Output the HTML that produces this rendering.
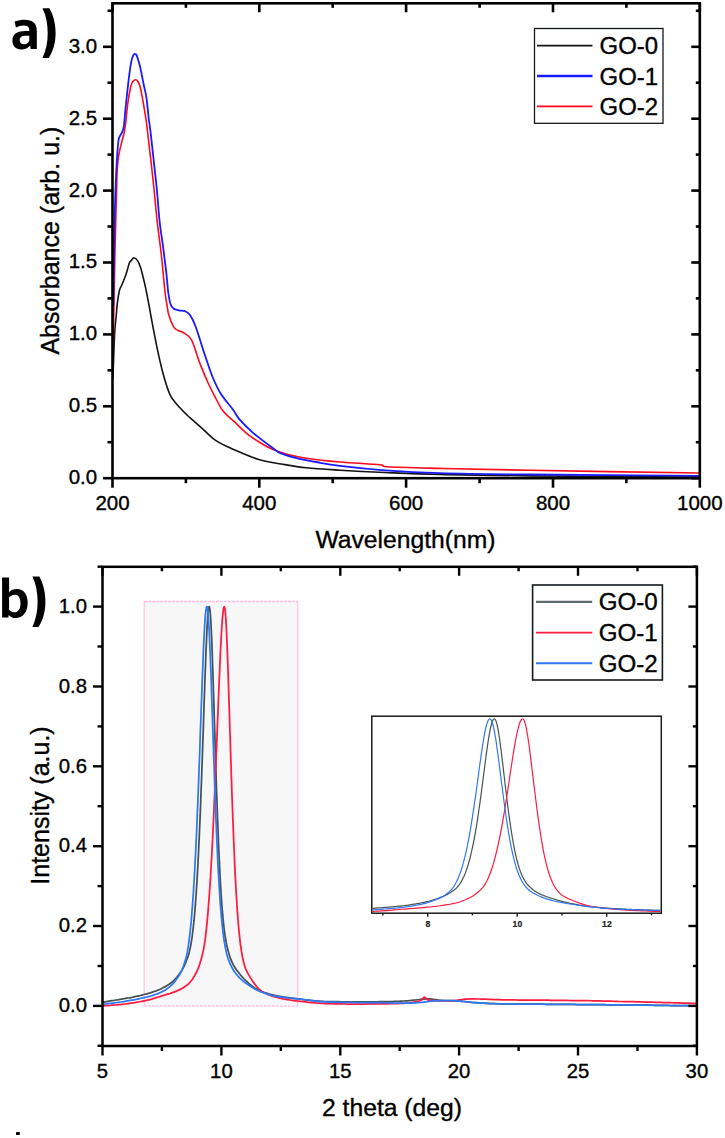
<!DOCTYPE html>
<html><head><meta charset="utf-8"><style>
html,body{margin:0;padding:0;background:#fff;width:725px;height:1138px;overflow:hidden;position:relative}
text{font-family:"Liberation Sans",sans-serif;stroke:#000;stroke-width:0.35px}
</style></head><body>
<svg width="725" height="1138" viewBox="0 0 725 1138" style="position:absolute;left:0;top:0"><rect width="725" height="1138" fill="#fff"/><path d="M112.9,378.4C113.2,370.8 114.1,343.3 114.7,332.7C115.3,322.1 115.9,319.9 116.3,315C116.7,310.1 116.8,307.7 117.3,303.6C117.8,299.5 118.7,293.6 119.4,290.5C120.2,287.4 120.7,287.6 121.8,285C122.9,282.4 124.6,278.4 125.9,274.7C127.2,271 128.5,265.2 129.4,262.9C130.3,260.5 130.4,261.5 131.2,260.6C131.9,259.8 132.8,257.8 133.9,257.8C135,257.9 136.6,259.3 137.7,260.9C138.8,262.4 139.6,264.8 140.4,267.1C141.2,269.4 141.6,271.2 142.5,274.7C143.4,278.1 144.6,283 145.6,287.8C146.6,292.6 147.7,298.5 148.7,303.6C149.7,308.7 150,311.1 151.4,318.5C152.8,325.9 155.2,338.8 157.1,347.9C159,357 160.8,365.2 162.9,373C165.1,380.8 167.2,388.8 170,394.6C172.8,400.4 176.6,404 179.9,407.8C183.2,411.6 186,414.1 189.9,417.7C193.8,421.3 198.7,425.4 203.1,429.3C207.5,433.2 211.4,437.6 216.4,440.9C221.4,444.2 226,446.1 232.9,449.2C239.8,452.2 249.9,456.7 257.9,459.2C265.9,461.7 273.1,462.6 281.1,464C289.2,465.4 296.4,466.8 306.2,467.8C316,468.8 326.9,469.4 340,470.2C353.1,471 368.3,471.8 385,472.5C401.7,473.2 415.8,473.9 440,474.5C464.2,475.1 486.8,475.5 530,475.9C573.2,476.3 670.8,476.8 699,477" fill="none" stroke="#141414" stroke-width="1.6"/><path d="M113.3,341C113.4,334.2 113.7,315.2 114,300C114.3,284.8 114.7,265 115,250C115.3,235 115.7,220 116,210C116.3,200 116.4,196.4 116.6,190C116.8,183.6 116.8,177 117.1,171.8C117.4,166.6 117.7,162.3 118.2,158.6C118.7,154.9 119.3,152.6 119.9,149.7C120.5,146.8 121.3,143.9 122,141C122.7,138.1 123.6,135.5 124.3,132C125,128.5 125.5,124.5 126,120C126.5,115.5 126.9,110.3 127.6,105C128.3,99.7 129.6,91.8 130.4,88C131.2,84.2 131.7,83.4 132.5,82C133.3,80.6 134.5,79.8 135.4,79.7C136.3,79.6 137.2,80.2 138,81.5C138.8,82.8 139.5,84.1 140.3,87.5C141.2,90.9 142.3,97.7 143.1,101.8C143.8,105.9 144.2,108.6 144.8,112C145.4,115.4 145.9,118.3 146.4,122C146.9,125.7 147.1,127.7 147.8,134C148.5,140.3 149.8,151.2 150.8,159.7C151.8,168.2 152.5,174.7 153.6,185C154.7,195.3 155.9,209.8 157.2,221.4C158.5,233 160,243.1 161.3,254.5C162.6,265.9 163.9,281.8 164.8,290C165.7,298.2 166.1,299.8 166.8,304C167.5,308.2 167.7,311.2 168.8,315C169.9,318.8 172,324.1 173.5,326.7C175,329.3 176.4,329.5 178,330.5C179.6,331.5 180.9,330.9 183.2,332.5C185.4,334.1 188.7,334.8 191.5,339.9C194.3,345 197,355.9 199.8,363.1C202.6,370.3 205.6,377.5 208.1,383C210.6,388.5 212.2,391.5 214.7,396.2C217.2,400.9 219.7,406.8 223,411.1C226.3,415.4 230.5,418 234.6,421.9C238.7,425.8 243.1,430.6 247.8,434.3C252.5,438 258.6,441.7 262.7,444.2C266.8,446.7 268.6,447.5 272.6,449.2C276.6,450.9 281.3,452.8 286.9,454.3C292.5,455.8 297.3,456.9 306.2,458.2C315.1,459.5 327.8,460.9 340,462C352.2,463.1 371.7,464 379.7,464.8C387.7,465.6 377.8,466.2 387.9,466.8C398,467.4 416.6,467.8 440.3,468.4C464,469 486.9,469.5 530,470.3C573.1,471.1 670.8,472.6 699,473" fill="none" stroke="#ff0a1e" stroke-width="1.6"/><path d="M113.3,306C113.4,300 113.6,284.3 113.8,270C114,255.7 114.3,233.3 114.6,220C114.9,206.7 115.2,199.1 115.5,190C115.8,180.9 116.2,172.1 116.6,165.2C117,158.3 117.3,153 117.7,148.6C118.1,144.2 118.2,141.3 118.8,138.7C119.4,136.1 120.8,135.2 121.6,133.2C122.4,131.2 123.2,130.5 123.8,126.6C124.4,122.7 124.8,116.1 125.4,110C126,103.9 126.8,96.2 127.5,90C128.2,83.8 128.8,78.1 129.5,73.1C130.2,68.1 131,62.9 131.7,59.9C132.4,56.9 133,56 133.5,55C134,54 134.3,53.8 134.8,53.8C135.3,53.8 135.9,53.9 136.5,55C137.1,56.1 137.7,58.4 138.3,60.5C138.9,62.6 139.4,63.6 140.3,67.6C141.2,71.5 142.6,79.2 143.6,84.2C144.6,89.2 145.5,91.4 146.4,97.4C147.3,103.4 148.2,114.6 148.9,120C149.6,125.4 149.5,123.3 150.3,129.9C151.1,136.5 152.5,149.7 153.6,159.7C154.7,169.7 155.9,179.7 156.9,190C157.9,200.3 158.6,212 159.6,221.4C160.6,230.8 161.9,237.6 163,246.2C164.1,254.8 165.4,265.1 166.3,272.7C167.2,280.3 167.5,286.8 168.2,292C168.9,297.2 169.6,301.2 170.5,304C171.4,306.8 172.2,307.4 173.5,308.5C174.8,309.6 176.5,309.9 178.4,310.3C180.3,310.8 183.2,310.4 185.1,311.2C187,312 188.2,312.5 190,315.1C191.8,317.7 193.2,320.1 195.7,326.7C198.2,333.3 201.9,346.2 204.8,354.8C207.7,363.4 210.2,371.4 213,378C215.8,384.6 218,389.4 221.3,394.6C224.6,399.9 229.9,405.4 232.9,409.5C235.9,413.6 236.2,415.5 239.5,419.4C242.8,423.2 247,427.6 252.8,432.6C258.6,437.6 269.6,445.7 274.3,449.2C279,452.7 277.4,451.9 281.1,453.4C284.8,454.9 290.7,456.8 296.5,458.2C302.3,459.6 308.6,460.7 315.8,462C323.1,463.3 328.5,464.5 340,465.9C351.5,467.3 368.3,469.1 385,470.3C401.7,471.5 415.8,472.4 440,473.1C464.2,473.8 486.8,474.1 530,474.5C573.2,474.9 670.8,475.6 699,475.8" fill="none" stroke="#1a1aff" stroke-width="1.8"/><g stroke="#000" stroke-width="2.6"><rect x="112.5" y="3.3" width="587.3" height="474.9" fill="none" stroke="#000" stroke-width="2.6"/><line x1="103.0" y1="478.2" x2="112.5" y2="478.2"/><line x1="699.8" y1="478.2" x2="691.3" y2="478.2"/><line x1="107.5" y1="442.2" x2="112.5" y2="442.2"/><line x1="699.8" y1="442.2" x2="695.8" y2="442.2"/><line x1="103.0" y1="406.3" x2="112.5" y2="406.3"/><line x1="699.8" y1="406.3" x2="691.3" y2="406.3"/><line x1="107.5" y1="370.3" x2="112.5" y2="370.3"/><line x1="699.8" y1="370.3" x2="695.8" y2="370.3"/><line x1="103.0" y1="334.4" x2="112.5" y2="334.4"/><line x1="699.8" y1="334.4" x2="691.3" y2="334.4"/><line x1="107.5" y1="298.4" x2="112.5" y2="298.4"/><line x1="699.8" y1="298.4" x2="695.8" y2="298.4"/><line x1="103.0" y1="262.5" x2="112.5" y2="262.5"/><line x1="699.8" y1="262.5" x2="691.3" y2="262.5"/><line x1="107.5" y1="226.5" x2="112.5" y2="226.5"/><line x1="699.8" y1="226.5" x2="695.8" y2="226.5"/><line x1="103.0" y1="190.6" x2="112.5" y2="190.6"/><line x1="699.8" y1="190.6" x2="691.3" y2="190.6"/><line x1="107.5" y1="154.6" x2="112.5" y2="154.6"/><line x1="699.8" y1="154.6" x2="695.8" y2="154.6"/><line x1="103.0" y1="118.7" x2="112.5" y2="118.7"/><line x1="699.8" y1="118.7" x2="691.3" y2="118.7"/><line x1="107.5" y1="82.7" x2="112.5" y2="82.7"/><line x1="699.8" y1="82.7" x2="695.8" y2="82.7"/><line x1="103.0" y1="46.8" x2="112.5" y2="46.8"/><line x1="699.8" y1="46.8" x2="691.3" y2="46.8"/><line x1="107.5" y1="10.8" x2="112.5" y2="10.8"/><line x1="699.8" y1="10.8" x2="695.8" y2="10.8"/><line x1="112.5" y1="478.2" x2="112.5" y2="487.7"/><line x1="112.5" y1="3.3" x2="112.5" y2="12.3"/><line x1="185.9" y1="478.2" x2="185.9" y2="483.2"/><line x1="185.9" y1="3.3" x2="185.9" y2="7.800000000000001"/><line x1="259.3" y1="478.2" x2="259.3" y2="487.7"/><line x1="259.3" y1="3.3" x2="259.3" y2="12.3"/><line x1="332.7" y1="478.2" x2="332.7" y2="483.2"/><line x1="332.7" y1="3.3" x2="332.7" y2="7.800000000000001"/><line x1="406.1" y1="478.2" x2="406.1" y2="487.7"/><line x1="406.1" y1="3.3" x2="406.1" y2="12.3"/><line x1="479.6" y1="478.2" x2="479.6" y2="483.2"/><line x1="479.6" y1="3.3" x2="479.6" y2="7.800000000000001"/><line x1="553.0" y1="478.2" x2="553.0" y2="487.7"/><line x1="553.0" y1="3.3" x2="553.0" y2="12.3"/><line x1="626.4" y1="478.2" x2="626.4" y2="483.2"/><line x1="626.4" y1="3.3" x2="626.4" y2="7.800000000000001"/><line x1="699.8" y1="478.2" x2="699.8" y2="487.7"/><line x1="699.8" y1="3.3" x2="699.8" y2="12.3"/></g><g font-family="Liberation Sans" font-size="20.5" fill="#000"><text x="112.5" y="509.8" text-anchor="middle">200</text><text x="259.3" y="509.8" text-anchor="middle">400</text><text x="406.1" y="509.8" text-anchor="middle">600</text><text x="553.0" y="509.8" text-anchor="middle">800</text><text x="699.8" y="509.8" text-anchor="middle">1000</text><text x="97.2" y="484.1" text-anchor="end">0.0</text><text x="97.2" y="412.2" text-anchor="end">0.5</text><text x="97.2" y="340.3" text-anchor="end">1.0</text><text x="97.2" y="268.4" text-anchor="end">1.5</text><text x="97.2" y="196.5" text-anchor="end">2.0</text><text x="97.2" y="124.6" text-anchor="end">2.5</text><text x="97.2" y="52.7" text-anchor="end">3.0</text></g><text x="405.5" y="547.6" text-anchor="middle" font-family="Liberation Sans" font-size="24.7">Wavelength(nm)</text><text transform="translate(58.9,240.6) rotate(-90)" text-anchor="middle" font-family="Liberation Sans" font-size="25">Absorbance (arb. u.)</text><rect x="534.5" y="28.5" width="128.5" height="94.8" fill="none" stroke="#151a1e" stroke-width="1.3"/><line x1="537" y1="45.6" x2="592.5" y2="45.6" stroke="#141414" stroke-width="1.8"/><text x="599.6" y="54.1" font-family="Liberation Sans" font-size="23" textLength="58.5" lengthAdjust="spacingAndGlyphs">GO-0</text><line x1="537" y1="76.0" x2="592.5" y2="76.0" stroke="#1a1aff" stroke-width="2.3"/><text x="599.6" y="84.5" font-family="Liberation Sans" font-size="23" textLength="58.5" lengthAdjust="spacingAndGlyphs">GO-1</text><line x1="537" y1="106.4" x2="592.5" y2="106.4" stroke="#ff0a1e" stroke-width="1.8"/><text x="599.6" y="114.9" font-family="Liberation Sans" font-size="23" textLength="58.5" lengthAdjust="spacingAndGlyphs">GO-2</text><path fill="#000" fill-rule="evenodd" d="M14.6,21.4 C18,20.2 21.4,19.7 24.6,19.7 C32.6,19.7 36.8,23.3 36.8,30.6 L36.8,48.9 L30.7,48.9 L30.1,45.6 C28.1,48.2 25,49.5 21.1,49.5 C15.7,49.5 12.4,46 12.4,40.6 C12.4,33.7 17.6,31 25.6,31 L29.3,31 L29.3,30 C29.3,26.8 27.4,25.4 23.7,25.4 C20.9,25.4 18.2,26.1 15.9,27.6 Z M29.3,35.7 L26,35.7 C21.7,35.7 19.7,37.2 19.7,40 C19.7,42.7 21.3,44.3 24,44.3 C26.9,44.3 29.3,42.4 29.3,39.5 Z"/><path d="M42.5,8.2 L49.4,8.2 C53.5,15.2 55.6,24.1 55.6,33.0 C55.6,42.0 53.5,50.9 48.7,57.9 L42.5,57.9 C46.2,50.4 47.7,42.0 47.7,33.0 C47.7,24.1 46.2,15.7 42.5,8.2 Z" fill="#000"/><rect x="144.2" y="601.5" width="153.5" height="404.6" fill="#f7f7f7"/><g fill="none" stroke="#ffb4de" stroke-width="1.3"><path d="M144.2,601.5 H297.7 M144.2,1006.1 H297.7" stroke-dasharray="2.6 1.4"/><path d="M144.2,601.5 V1006.1 M297.7,601.5 V1006.1" stroke-dasharray="1.5 0.5"/></g><path d="M102.5,1002.4C102.9,1002.3 104.3,1002.1 105.2,1001.9C106.1,1001.8 107,1001.6 107.9,1001.4C108.8,1001.3 109.7,1001.1 110.6,1000.9C111.5,1000.8 112.4,1000.6 113.3,1000.5C114.2,1000.3 115.1,1000.2 116,1000C116.9,999.9 117.8,999.7 118.7,999.6C119.6,999.4 120.5,999.3 121.4,999.1C122.3,999 123.2,998.8 124.1,998.7C125,998.5 125.9,998.4 126.8,998.2C127.7,998.1 128.6,997.9 129.5,997.8C130.4,997.6 131.3,997.5 132.2,997.3C133.1,997.1 134,996.9 134.9,996.7C135.8,996.6 136.7,996.4 137.6,996.2C138.5,996 139.4,995.7 140.3,995.5C141.2,995.3 142,995.1 142.9,994.9C143.8,994.6 144.7,994.4 145.6,994.2C146.5,993.9 147.4,993.7 148.3,993.4C149.2,993.1 150.1,992.9 151,992.6C151.9,992.3 152.8,992 153.7,991.7C154.6,991.4 155.5,991.1 156.4,990.8C157.3,990.4 158.2,990.1 159.1,989.7C160,989.3 160.9,988.9 161.8,988.5C162.7,988.1 163.6,987.6 164.5,987.1C165.4,986.7 166.3,986.1 167.2,985.6C168.1,985 169,984.4 169.9,983.7C170.8,983 171.7,982.4 172.6,981.6C173.5,980.8 174.4,979.9 175.3,978.9C176.2,978 177.1,976.9 178,975.7C178.9,974.6 180.2,972.8 180.7,972.1C181.2,971.4 181,971.6 181.1,971.4C181.3,971.2 181.4,971 181.6,970.7C181.7,970.5 181.9,970.3 182,970C182.2,969.8 182.3,969.5 182.5,969.3C182.6,969 182.8,968.8 182.9,968.5C183.1,968.2 183.2,968 183.4,967.7C183.5,967.4 183.6,967.1 183.8,966.8C183.9,966.5 184.1,966.2 184.2,965.9C184.4,965.6 184.5,965.3 184.7,965C184.8,964.6 185,964.3 185.1,963.9C185.3,963.6 185.4,963.2 185.6,962.9C185.7,962.5 185.9,962.1 186,961.7C186.2,961.3 186.3,960.9 186.4,960.5C186.6,960.1 186.7,959.8 186.9,959.4C187,959 187.2,958.6 187.3,958.2C187.5,957.9 187.6,957.5 187.8,957.1C187.9,956.7 188.1,956.3 188.2,955.8C188.4,955.4 188.5,954.9 188.7,954.4C188.8,954 189,953.5 189.1,952.9C189.3,952.4 189.4,951.8 189.5,951.2C189.7,950.6 189.8,949.9 190,949.3C190.1,948.6 190.3,947.8 190.4,947C190.6,946.3 190.7,945.5 190.9,944.6C191,943.8 191.2,942.9 191.3,942C191.5,941.1 191.6,940.1 191.8,939.1C191.9,938.2 192.1,937.1 192.2,936C192.3,935 192.5,933.8 192.6,932.7C192.8,931.5 192.9,930.3 193.1,929C193.2,927.7 193.4,926.4 193.5,925C193.7,923.6 193.8,922.2 194,920.7C194.1,919.2 194.3,917.7 194.4,916.1C194.6,914.4 194.7,912.8 194.9,911C195,909.3 195.1,907.5 195.3,905.6C195.4,903.7 195.6,901.8 195.7,899.8C195.9,897.8 196,895.7 196.2,893.5C196.3,891.3 196.5,889.1 196.6,886.8C196.8,884.5 196.9,882.1 197.1,879.6C197.2,877.1 197.4,874.6 197.5,871.9C197.7,869.3 197.8,866.6 198,863.8C198.1,860.9 198.2,858.1 198.4,855.1C198.5,852.1 198.7,849.1 198.8,845.9C199,842.8 199.1,839.5 199.3,836.2C199.4,832.9 199.6,829.5 199.7,826.1C199.9,822.6 200,819 200.2,815.4C200.3,811.7 200.5,808 200.6,804.2C200.8,800.4 200.9,796.6 201,792.6C201.2,788.7 201.3,784.7 201.5,780.6C201.6,776.6 201.8,772.4 201.9,768.3C202.1,764.1 202.2,759.8 202.4,755.6C202.5,751.3 202.7,747 202.8,742.6C203,738.3 203.1,733.9 203.3,729.5C203.4,725.1 203.6,720.7 203.7,716.3C203.8,711.9 204,707.5 204.1,703.1C204.3,698.7 204.4,694.4 204.6,690.1C204.7,685.8 204.9,681.5 205,677.4C205.2,673.2 205.3,669.1 205.5,665.2C205.6,661.2 205.8,657.3 205.9,653.6C206.1,649.9 206.2,646.3 206.4,642.9C206.5,639.5 206.6,636.2 206.8,633.2C206.9,630.2 207.1,627.4 207.2,624.8C207.4,622.2 207.5,619.9 207.7,617.8C207.8,615.7 208,613.9 208.1,612.4C208.3,610.9 208.4,609.6 208.6,608.7C208.7,607.8 208.9,607.1 209,606.8C209.2,606.5 209.3,606.5 209.5,606.9C209.6,607.3 209.7,608 209.9,609.2C210,610.3 210.2,611.8 210.3,613.6C210.5,615.5 210.6,617.7 210.8,620.2C210.9,622.7 211.1,625.5 211.2,628.6C211.4,631.6 211.5,635 211.7,638.6C211.8,642.2 212,646 212.1,650C212.3,654 212.4,658.2 212.5,662.6C212.7,666.9 212.8,671.4 213,675.9C213.1,680.5 213.3,685.2 213.4,689.9C213.6,694.7 213.7,699.5 213.9,704.3C214,709.1 214.2,714 214.3,718.9C214.5,723.7 214.6,728.6 214.8,733.4C214.9,738.3 215.1,743.1 215.2,747.9C215.3,752.6 215.5,757.4 215.6,762C215.8,766.7 215.9,771.3 216.1,775.9C216.2,780.4 216.4,784.9 216.5,789.3C216.7,793.7 216.8,798 217,802.2C217.1,806.4 217.3,810.5 217.4,814.5C217.6,818.6 217.7,822.5 217.9,826.3C218,830.2 218.2,833.9 218.3,837.5C218.4,841.2 218.6,844.7 218.7,848.1C218.9,851.6 219,854.9 219.2,858.1C219.3,861.3 219.5,864.4 219.6,867.4C219.8,870.4 219.9,873.2 220.1,876C220.2,878.8 220.4,881.4 220.5,884C220.7,886.6 220.8,889 221,891.4C221.1,893.7 221.2,896 221.4,898.1C221.5,900.3 221.7,902.4 221.8,904.3C222,906.3 222.1,908.2 222.3,910C222.4,911.8 222.6,913.6 222.7,915.2C222.9,916.9 223,918.4 223.2,919.9C223.3,921.4 223.5,922.8 223.6,924.2C223.8,925.6 223.9,926.9 224,928.1C224.2,929.3 224.3,930.5 224.5,931.6C224.6,932.7 224.8,933.8 224.9,934.8C225.1,935.8 225.2,936.8 225.4,937.7C225.5,938.6 225.7,939.5 225.8,940.3C226,941.1 226.1,941.9 226.3,942.7C226.4,943.5 226.6,944.2 226.7,944.9C226.9,945.6 227,946.2 227.1,946.9C227.3,947.5 227.4,948.1 227.6,948.7C227.7,949.3 227.9,949.9 228,950.4C228.2,951 228.3,951.5 228.5,952C228.6,952.5 228.8,953 228.9,953.5C229.1,954 229.2,954.5 229.4,955C229.5,955.4 229.7,955.9 229.8,956.4C229.9,956.8 230.1,957.3 230.2,957.7C230.4,958.1 230.5,958.5 230.7,958.9C230.8,959.3 231,959.7 231.1,960.1C231.3,960.5 231.4,960.8 231.6,961.2C231.7,961.5 231.9,961.9 232,962.2C232.2,962.5 232.3,962.8 232.5,963.1C232.6,963.5 232.7,963.8 232.9,964C233,964.3 233.2,964.6 233.3,964.9C233.5,965.2 233.6,965.4 233.8,965.7C233.9,966 234.1,966.2 234.2,966.5C234.4,966.7 234.5,966.9 234.7,967.2C234.8,967.4 235,967.6 235.1,967.9C235.3,968.1 235.4,968.3 235.5,968.5C235.7,968.7 235.8,968.9 236,969.1C236.1,969.3 236.3,969.5 236.4,969.7C236.6,969.9 236.7,970.1 236.9,970.3C237,970.5 237.2,970.7 237.3,970.9C237.5,971.1 237,970.6 237.8,971.5C238.5,972.4 240.3,974.8 241.6,976.3C242.9,977.8 244.2,979.1 245.5,980.4C246.8,981.6 248.1,982.8 249.3,983.9C250.6,985 251.9,986.1 253.2,987C254.5,987.9 255.8,988.7 257.1,989.3C258.3,990 259.6,990.7 260.9,991.2C262.2,991.8 263.5,992.2 264.8,992.7C266.1,993.1 267.3,993.5 268.6,993.8C269.9,994.2 271.2,994.5 272.5,994.8C273.8,995.1 275.1,995.4 276.3,995.7C277.6,995.9 278.9,996.2 280.2,996.4C281.5,996.6 282.8,996.8 284.1,997C285.3,997.2 286.6,997.4 287.9,997.6C289.2,997.8 290.5,998 291.8,998.2C293.1,998.4 294.3,998.5 295.6,998.7C296.9,998.9 298.2,999.1 299.5,999.2C300.8,999.4 302.1,999.5 303.4,999.7C304.6,999.8 305.9,1000 307.2,1000.1C308.5,1000.2 309.8,1000.4 311.1,1000.5C312.4,1000.6 313.6,1000.7 314.9,1000.8C316.2,1000.9 317.5,1001 318.8,1001.1C320.1,1001.2 321.4,1001.3 322.6,1001.3C323.9,1001.4 325.2,1001.5 326.5,1001.5C327.8,1001.6 329.1,1001.6 330.4,1001.6C331.6,1001.6 332.9,1001.6 334.2,1001.7C335.5,1001.7 336.8,1001.7 338.1,1001.7C339.4,1001.7 340.6,1001.7 341.9,1001.8C343.2,1001.8 344.5,1001.8 345.8,1001.8C347.1,1001.8 348.4,1001.8 349.7,1001.8C350.9,1001.8 352.2,1001.8 353.5,1001.8C354.8,1001.8 356.1,1001.8 357.4,1001.8C358.7,1001.8 359.9,1001.8 361.2,1001.8C362.5,1001.8 363.8,1001.8 365.1,1001.8C366.4,1001.8 367.7,1001.8 368.9,1001.8C370.2,1001.8 371.5,1001.8 372.8,1001.8C374.1,1001.8 375.4,1001.8 376.7,1001.8C377.9,1001.8 379.2,1001.8 380.5,1001.7C381.8,1001.7 383.1,1001.7 384.4,1001.7C385.7,1001.6 386.9,1001.6 388.2,1001.6C389.5,1001.5 390.8,1001.5 392.1,1001.5C393.4,1001.4 394.7,1001.4 396,1001.3C397.2,1001.3 398.5,1001.2 399.8,1001.2C401.1,1001.1 402.4,1001.1 403.7,1001C405,1000.9 406.2,1000.9 407.5,1000.8C408.8,1000.7 410.1,1000.6 411.4,1000.4C412.7,1000.3 414,1000.1 415.2,1000C416.5,999.8 417.8,999.6 419.1,999.5C420.4,999.3 421.7,999.2 423,999.1C424.2,999 425.5,998.9 426.8,998.8C428.1,998.8 429.4,998.8 430.7,998.9C432,999 433.2,999.3 434.5,999.5C435.8,999.7 437.1,1000 438.4,1000.1C439.7,1000.3 441,1000.3 442.3,1000.4C443.5,1000.4 444.8,1000.4 446.1,1000.5C447.4,1000.5 448.7,1000.5 450,1000.5C451.3,1000.6 452.5,1000.6 453.8,1000.7C455.1,1000.7 456.4,1000.8 457.7,1001C459,1001.1 460.3,1001.2 461.5,1001.3C462.8,1001.4 464.1,1001.6 465.4,1001.7C466.7,1001.9 468,1002 469.3,1002.1C470.5,1002.3 471.8,1002.4 473.1,1002.5C474.4,1002.6 475.7,1002.6 477,1002.7C478.3,1002.8 479.5,1002.9 480.8,1003C482.1,1003 483.4,1003.1 484.7,1003.2C486,1003.3 487.3,1003.3 488.6,1003.4C489.8,1003.5 491.1,1003.5 492.4,1003.6C493.7,1003.6 495,1003.7 496.3,1003.7C497.6,1003.8 498.8,1003.8 500.1,1003.8C501.4,1003.8 502.7,1003.8 504,1003.9C505.3,1003.9 506.6,1003.9 507.8,1003.9C509.1,1003.9 510.4,1004 511.7,1004C513,1004 514.3,1004 515.6,1004C516.8,1004 518.1,1004 519.4,1004.1C520.7,1004.1 522,1004.1 523.3,1004.1C524.6,1004.1 525.8,1004.1 527.1,1004.1C528.4,1004.1 529.7,1004.1 531,1004.2C532.3,1004.2 533.6,1004.2 534.9,1004.2C536.1,1004.2 537.4,1004.2 538.7,1004.2C540,1004.2 541.3,1004.2 542.6,1004.2C543.9,1004.2 545.1,1004.3 546.4,1004.3C547.7,1004.3 549,1004.3 550.3,1004.3C551.6,1004.3 552.9,1004.3 554.1,1004.3C555.4,1004.3 556.7,1004.3 558,1004.3C559.3,1004.3 560.6,1004.3 561.9,1004.4C563.1,1004.4 564.4,1004.4 565.7,1004.4C567,1004.4 568.3,1004.4 569.6,1004.4C570.9,1004.4 572.1,1004.4 573.4,1004.4C574.7,1004.4 576,1004.5 577.3,1004.5C578.6,1004.5 579.9,1004.5 581.2,1004.5C582.4,1004.5 583.7,1004.5 585,1004.5C586.3,1004.6 587.6,1004.6 588.9,1004.6C590.2,1004.6 591.4,1004.6 592.7,1004.6C594,1004.6 595.3,1004.6 596.6,1004.6C597.9,1004.7 599.2,1004.7 600.4,1004.7C601.7,1004.7 603,1004.7 604.3,1004.7C605.6,1004.7 606.9,1004.8 608.2,1004.8C609.4,1004.8 610.7,1004.8 612,1004.8C613.3,1004.8 614.6,1004.8 615.9,1004.8C617.2,1004.9 618.4,1004.9 619.7,1004.9C621,1004.9 622.3,1004.9 623.6,1004.9C624.9,1004.9 626.2,1004.9 627.5,1005C628.7,1005 630,1005 631.3,1005C632.6,1005 633.9,1005 635.2,1005C636.5,1005.1 637.7,1005.1 639,1005.1C640.3,1005.1 641.6,1005.1 642.9,1005.1C644.2,1005.1 645.5,1005.2 646.7,1005.2C648,1005.2 649.3,1005.2 650.6,1005.2C651.9,1005.2 653.2,1005.3 654.5,1005.3C655.7,1005.3 657,1005.3 658.3,1005.3C659.6,1005.3 660.9,1005.3 662.2,1005.4C663.5,1005.4 664.7,1005.4 666,1005.4C667.3,1005.4 668.6,1005.4 669.9,1005.5C671.2,1005.5 672.5,1005.5 673.8,1005.5C675,1005.5 676.3,1005.5 677.6,1005.6C678.9,1005.6 680.2,1005.6 681.5,1005.6C682.8,1005.6 684,1005.6 685.3,1005.7C686.6,1005.7 687.9,1005.7 689.2,1005.7C690.5,1005.7 691.8,1005.7 693,1005.8C694.3,1005.8 696.3,1005.8 696.9,1005.8" fill="none" stroke="#465252" stroke-width="1.75" stroke-linejoin="round"/><path d="M102.5,1005.8C103,1005.8 104.6,1005.7 105.7,1005.6C106.8,1005.6 107.9,1005.5 108.9,1005.5C110,1005.4 111.1,1005.3 112.1,1005.2C113.2,1005.2 114.3,1005.1 115.4,1005C116.4,1004.9 117.5,1004.8 118.6,1004.7C119.7,1004.6 120.7,1004.5 121.8,1004.4C122.9,1004.3 123.9,1004.2 125,1004C126.1,1003.9 127.2,1003.7 128.2,1003.6C129.3,1003.5 130.4,1003.3 131.4,1003.1C132.5,1003 133.6,1002.8 134.7,1002.7C135.7,1002.5 136.8,1002.3 137.9,1002.1C138.9,1001.9 140,1001.7 141.1,1001.5C142.2,1001.3 143.2,1001.1 144.3,1000.8C145.4,1000.6 146.5,1000.4 147.5,1000.1C148.6,999.9 149.7,999.6 150.7,999.3C151.8,999.1 152.9,998.8 154,998.4C155,998.1 156.1,997.8 157.2,997.4C158.2,997.1 159.3,996.7 160.4,996.4C161.5,996 162.5,995.7 163.6,995.4C164.7,995 165.8,994.7 166.8,994.4C167.9,994.1 169,993.8 170,993.5C171.1,993.1 172.2,992.7 173.3,992.3C174.3,992 175.4,991.5 176.5,991.1C177.5,990.6 178.6,990.1 179.7,989.6C180.8,989.1 181.8,988.5 182.9,987.9C184,987.3 185,986.6 186.1,985.8C187.2,985 188.3,984.2 189.3,983C190.4,981.9 191.5,980.6 192.6,979C193.6,977.4 195.2,974.6 195.8,973.5C196.4,972.5 196.1,972.9 196.2,972.7C196.4,972.4 196.5,972.1 196.7,971.8C196.8,971.5 196.9,971.1 197.1,970.8C197.2,970.5 197.4,970.2 197.5,969.8C197.7,969.5 197.8,969.2 198,968.8C198.1,968.5 198.3,968.1 198.4,967.7C198.6,967.3 198.7,967 198.9,966.6C199,966.2 199.2,965.8 199.3,965.3C199.5,964.9 199.6,964.5 199.7,964C199.9,963.6 200,963.1 200.2,962.6C200.3,962.2 200.5,961.7 200.6,961.2C200.8,960.6 200.9,960.1 201.1,959.6C201.2,959 201.4,958.5 201.5,957.9C201.7,957.4 201.8,956.8 202,956.3C202.1,955.7 202.3,955.2 202.4,954.6C202.6,954 202.7,953.4 202.8,952.7C203,952.1 203.1,951.4 203.3,950.7C203.4,950 203.6,949.3 203.7,948.5C203.9,947.8 204,946.9 204.2,946.1C204.3,945.2 204.5,944.3 204.6,943.3C204.8,942.3 204.9,941.3 205.1,940.2C205.2,939.1 205.4,937.9 205.5,936.8C205.6,935.6 205.8,934.3 205.9,933C206.1,931.8 206.2,930.4 206.4,929.1C206.5,927.7 206.7,926.3 206.8,924.8C207,923.3 207.1,921.8 207.3,920.2C207.4,918.7 207.6,917 207.7,915.4C207.9,913.7 208,912 208.2,910.2C208.3,908.4 208.4,906.5 208.6,904.7C208.7,902.8 208.9,900.8 209,898.8C209.2,896.8 209.3,894.7 209.5,892.6C209.6,890.5 209.8,888.3 209.9,886.1C210.1,883.8 210.2,881.5 210.4,879.2C210.5,876.8 210.7,874.4 210.8,871.9C211,869.5 211.1,866.9 211.2,864.3C211.4,861.7 211.5,859.1 211.7,856.4C211.8,853.7 212,850.9 212.1,848C212.3,845.2 212.4,842.3 212.6,839.4C212.7,836.4 212.9,833.4 213,830.4C213.2,827.3 213.3,824.2 213.5,821C213.6,817.8 213.8,814.6 213.9,811.3C214.1,808.1 214.2,804.8 214.3,801.4C214.5,798 214.6,794.6 214.8,791.1C214.9,787.7 215.1,784.2 215.2,780.6C215.4,777.1 215.5,773.5 215.7,769.9C215.8,766.2 216,762.6 216.1,758.9C216.3,755.2 216.4,751.5 216.6,747.7C216.7,744 216.9,740.2 217,736.5C217.1,732.7 217.3,728.9 217.4,725.1C217.6,721.3 217.7,717.5 217.9,713.8C218,710 218.2,706.2 218.3,702.5C218.5,698.7 218.6,695 218.8,691.3C218.9,687.7 219.1,684 219.2,680.4C219.4,676.9 219.5,673.3 219.7,669.9C219.8,666.4 219.9,663 220.1,659.7C220.2,656.5 220.4,653.3 220.5,650.2C220.7,647.1 220.8,644.1 221,641.3C221.1,638.4 221.3,635.7 221.4,633.2C221.6,630.6 221.7,628.2 221.9,625.9C222,623.7 222.2,621.6 222.3,619.7C222.5,617.9 222.6,616.1 222.8,614.6C222.9,613.1 223,611.8 223.2,610.7C223.3,609.7 223.5,608.8 223.6,608.1C223.8,607.4 223.9,607 224.1,606.8C224.2,606.6 224.4,606.5 224.5,606.9C224.7,607.2 224.8,607.9 225,609C225.1,610 225.3,611.4 225.4,613.1C225.6,614.8 225.7,616.8 225.8,619.2C226,621.5 226.1,624.1 226.3,627C226.4,629.8 226.6,633 226.7,636.4C226.9,639.7 227,643.3 227.2,647.1C227.3,650.9 227.5,654.9 227.6,658.9C227.8,663 227.9,667.3 228.1,671.7C228.2,676 228.4,680.5 228.5,685.1C228.6,689.6 228.8,694.3 228.9,699C229.1,703.6 229.2,708.4 229.4,713.1C229.5,717.8 229.7,722.6 229.8,727.4C230,732.1 230.1,736.9 230.3,741.6C230.4,746.3 230.6,751 230.7,755.7C230.9,760.3 231,764.9 231.2,769.5C231.3,774 231.4,778.6 231.6,783C231.7,787.4 231.9,791.8 232,796.1C232.2,800.3 232.3,804.6 232.5,808.7C232.6,812.8 232.8,816.9 232.9,820.8C233.1,824.8 233.2,828.6 233.4,832.4C233.5,836.2 233.7,839.8 233.8,843.4C234,847 234.1,850.5 234.3,853.9C234.4,857.3 234.5,860.5 234.7,863.7C234.8,866.9 235,870 235.1,873C235.3,876 235.4,878.9 235.6,881.7C235.7,884.5 235.9,887.2 236,889.8C236.2,892.4 236.3,895 236.5,897.4C236.6,899.8 236.8,902.2 236.9,904.4C237.1,906.7 237.2,908.8 237.3,910.9C237.5,913 237.6,915 237.8,917C237.9,918.9 238.1,920.7 238.2,922.5C238.4,924.3 238.5,926 238.7,927.6C238.8,929.2 239,930.8 239.1,932.3C239.3,933.8 239.4,935.2 239.6,936.6C239.7,938 239.9,939.3 240,940.5C240.1,941.8 240.3,943 240.4,944.1C240.6,945.3 240.7,946.3 240.9,947.4C241,948.4 241.2,949.4 241.3,950.4C241.5,951.4 241.6,952.3 241.8,953.1C241.9,954 242.1,954.8 242.2,955.6C242.4,956.4 242.5,957.2 242.7,957.9C242.8,958.6 243,959.3 243.1,960C243.2,960.7 243.4,961.3 243.5,961.9C243.7,962.5 243.8,963.1 244,963.6C244.1,964.1 244.3,964.6 244.4,965.1C244.6,965.6 244.7,966.1 244.9,966.5C245,967 245.2,967.4 245.3,967.8C245.5,968.2 245.6,968.6 245.8,968.9C245.9,969.3 246,969.7 246.2,970C246.3,970.3 246.5,970.7 246.6,971C246.8,971.3 246.9,971.6 247.1,971.9C247.2,972.2 247.4,972.4 247.5,972.7C247.7,973 247.8,973.3 248,973.5C248.1,973.8 248.3,974 248.4,974.3C248.6,974.5 248.7,974.8 248.8,975C249,975.3 249.1,975.5 249.3,975.8C249.4,976 249.6,976.3 249.7,976.5C249.9,976.7 250,977 250.2,977.2C250.3,977.5 250.5,977.7 250.6,977.9C250.8,978.2 250.9,978.4 251.1,978.6C251.2,978.9 251.4,979.1 251.5,979.3C251.7,979.6 251.8,979.8 251.9,980C252.1,980.3 252.2,980.5 252.4,980.7C252.5,980.9 252.1,980.4 252.8,981.4C253.5,982.4 255.3,985.1 256.6,986.5C257.8,988 259,989.2 260.3,990.2C261.5,991.2 262.8,991.9 264,992.6C265.3,993.3 266.5,993.9 267.8,994.4C269,994.9 270.2,995.4 271.5,995.8C272.7,996.3 274,996.7 275.2,997C276.5,997.4 277.7,997.7 279,998C280.2,998.3 281.4,998.5 282.7,998.8C283.9,999 285.2,999.2 286.4,999.4C287.7,999.7 288.9,999.8 290.1,1000C291.4,1000.2 292.6,1000.4 293.9,1000.6C295.1,1000.7 296.4,1000.9 297.6,1001C298.9,1001.2 300.1,1001.3 301.3,1001.5C302.6,1001.6 303.8,1001.8 305.1,1001.9C306.3,1002 307.6,1002.2 308.8,1002.3C310,1002.4 311.3,1002.5 312.5,1002.7C313.8,1002.8 315,1002.9 316.3,1003C317.5,1003.1 318.8,1003.2 320,1003.2C321.2,1003.3 322.5,1003.4 323.7,1003.5C325,1003.5 326.2,1003.6 327.5,1003.6C328.7,1003.7 330,1003.7 331.2,1003.7C332.4,1003.8 333.7,1003.8 334.9,1003.8C336.2,1003.8 337.4,1003.9 338.7,1003.9C339.9,1003.9 341.1,1003.9 342.4,1003.9C343.6,1003.9 344.9,1003.9 346.1,1004C347.4,1004 348.6,1004 349.9,1004C351.1,1004 352.3,1004 353.6,1004C354.8,1004 356.1,1004 357.3,1004C358.6,1004 359.8,1004 361,1004C362.3,1004 363.5,1004 364.8,1004C366,1004 367.3,1004 368.5,1003.9C369.8,1003.9 371,1003.9 372.2,1003.9C373.5,1003.9 374.7,1003.9 376,1003.9C377.2,1003.9 378.5,1003.9 379.7,1003.9C381,1003.8 382.2,1003.8 383.4,1003.8C384.7,1003.8 385.9,1003.8 387.2,1003.8C388.4,1003.7 389.7,1003.7 390.9,1003.7C392.1,1003.7 393.4,1003.6 394.6,1003.6C395.9,1003.6 397.1,1003.5 398.4,1003.5C399.6,1003.5 400.9,1003.4 402.1,1003.4C403.3,1003.3 404.6,1003.3 405.8,1003.2C407.1,1003.1 408.3,1003 409.6,1002.9C410.8,1002.7 412,1002.5 413.3,1002.3C414.5,1002.1 415.8,1001.9 417,1001.6C418.3,1001.3 419.5,1001.3 420.8,1000.6C422,999.9 423.2,997.3 424.5,997.2C425.7,997.2 427,999.6 428.2,1000.1C429.5,1000.7 430.7,1000.3 432,1000.4C433.2,1000.5 434.4,1000.6 435.7,1000.6C436.9,1000.7 438.2,1000.7 439.4,1000.8C440.7,1000.8 441.9,1000.8 443.1,1000.9C444.4,1000.9 445.6,1000.9 446.9,1000.9C448.1,1000.9 449.4,1000.9 450.6,1000.9C451.9,1000.8 453.1,1000.8 454.3,1000.6C455.6,1000.5 456.8,1000.4 458.1,1000.2C459.3,1000.1 460.6,999.9 461.8,999.7C463,999.6 464.3,999.4 465.5,999.2C466.8,999.1 468,999 469.3,998.9C470.5,998.8 471.8,998.8 473,998.8C474.2,998.8 475.5,998.8 476.7,998.9C478,998.9 479.2,998.9 480.5,999C481.7,999 483,999.1 484.2,999.1C485.4,999.2 486.7,999.2 487.9,999.3C489.2,999.3 490.4,999.4 491.7,999.4C492.9,999.5 494.1,999.5 495.4,999.6C496.6,999.6 497.9,999.7 499.1,999.7C500.4,999.7 501.6,999.7 502.9,999.8C504.1,999.8 505.3,999.8 506.6,999.8C507.8,999.8 509.1,999.8 510.3,999.9C511.6,999.9 512.8,999.9 514,999.9C515.3,999.9 516.5,999.9 517.8,1000C519,1000 520.3,1000 521.5,1000C522.8,1000 524,1000 525.2,1000C526.5,1000.1 527.7,1000.1 529,1000.1C530.2,1000.1 531.5,1000.1 532.7,1000.1C533.9,1000.1 535.2,1000.1 536.4,1000.2C537.7,1000.2 538.9,1000.2 540.2,1000.2C541.4,1000.2 542.7,1000.2 543.9,1000.2C545.1,1000.2 546.4,1000.2 547.6,1000.2C548.9,1000.3 550.1,1000.3 551.4,1000.3C552.6,1000.3 553.9,1000.3 555.1,1000.3C556.3,1000.3 557.6,1000.3 558.8,1000.3C560.1,1000.4 561.3,1000.4 562.6,1000.4C563.8,1000.4 565,1000.4 566.3,1000.4C567.5,1000.4 568.8,1000.4 570,1000.5C571.3,1000.5 572.5,1000.5 573.8,1000.5C575,1000.5 576.2,1000.5 577.5,1000.6C578.7,1000.6 580,1000.6 581.2,1000.6C582.5,1000.6 583.7,1000.6 584.9,1000.7C586.2,1000.7 587.4,1000.7 588.7,1000.7C589.9,1000.7 591.2,1000.8 592.4,1000.8C593.7,1000.8 594.9,1000.8 596.1,1000.9C597.4,1000.9 598.6,1000.9 599.9,1000.9C601.1,1001 602.4,1001 603.6,1001C604.9,1001.1 606.1,1001.1 607.3,1001.1C608.6,1001.1 609.8,1001.2 611.1,1001.2C612.3,1001.2 613.6,1001.3 614.8,1001.3C616,1001.3 617.3,1001.3 618.5,1001.4C619.8,1001.4 621,1001.4 622.3,1001.5C623.5,1001.5 624.8,1001.5 626,1001.6C627.2,1001.6 628.5,1001.6 629.7,1001.7C631,1001.7 632.2,1001.7 633.5,1001.7C634.7,1001.8 635.9,1001.8 637.2,1001.8C638.4,1001.9 639.7,1001.9 640.9,1001.9C642.2,1002 643.4,1002 644.7,1002C645.9,1002 647.1,1002.1 648.4,1002.1C649.6,1002.1 650.9,1002.2 652.1,1002.2C653.4,1002.2 654.6,1002.3 655.9,1002.3C657.1,1002.3 658.3,1002.4 659.6,1002.4C660.8,1002.4 662.1,1002.5 663.3,1002.5C664.6,1002.5 665.8,1002.6 667,1002.6C668.3,1002.6 669.5,1002.7 670.8,1002.7C672,1002.7 673.3,1002.8 674.5,1002.8C675.8,1002.8 677,1002.9 678.2,1002.9C679.5,1002.9 680.7,1003 682,1003C683.2,1003 684.5,1003.1 685.7,1003.1C686.9,1003.1 688.2,1003.2 689.4,1003.2C690.7,1003.2 691.9,1003.3 693.2,1003.3C694.4,1003.4 696.3,1003.4 696.9,1003.4" fill="none" stroke="#ff1a40" stroke-width="1.75" stroke-linejoin="round"/><path d="M102.5,1004.3C102.9,1004.3 104.2,1004.1 105.1,1004C106,1003.9 106.9,1003.8 107.7,1003.7C108.6,1003.6 109.5,1003.5 110.3,1003.4C111.2,1003.3 112.1,1003.2 113,1003.1C113.8,1003 114.7,1002.9 115.6,1002.7C116.4,1002.6 117.3,1002.5 118.2,1002.4C119.1,1002.2 119.9,1002.1 120.8,1002C121.7,1001.8 122.5,1001.7 123.4,1001.6C124.3,1001.4 125.2,1001.3 126,1001.1C126.9,1001 127.8,1000.8 128.6,1000.7C129.5,1000.5 130.4,1000.4 131.3,1000.2C132.1,1000.1 133,999.9 133.9,999.8C134.7,999.6 135.6,999.4 136.5,999.3C137.4,999.1 138.2,998.9 139.1,998.8C140,998.6 140.8,998.4 141.7,998.2C142.6,998.1 143.5,997.9 144.3,997.7C145.2,997.5 146.1,997.3 146.9,997C147.8,996.8 148.7,996.6 149.6,996.3C150.4,996.1 151.3,995.8 152.2,995.6C153.1,995.3 153.9,995 154.8,994.7C155.7,994.4 156.5,994.1 157.4,993.8C158.3,993.4 159.2,993.1 160,992.7C160.9,992.3 161.8,991.9 162.6,991.4C163.5,991 164.4,990.5 165.3,989.9C166.1,989.4 167,988.8 167.9,988.2C168.7,987.5 169.6,986.8 170.5,986.1C171.4,985.3 172.2,984.5 173.1,983.6C174,982.6 174.8,981.6 175.7,980.4C176.6,979.3 177.8,977.4 178.3,976.7C178.8,975.9 178.6,976.2 178.8,976C178.9,975.7 179.1,975.5 179.2,975.3C179.4,975 179.5,974.8 179.7,974.5C179.8,974.3 179.9,974 180.1,973.8C180.2,973.5 180.4,973.2 180.5,972.9C180.7,972.7 180.8,972.4 181,972.1C181.1,971.8 181.3,971.5 181.4,971.2C181.6,970.8 181.7,970.5 181.9,970.2C182,969.8 182.2,969.5 182.3,969.1C182.5,968.8 182.6,968.4 182.7,968C182.9,967.7 183,967.3 183.2,966.8C183.3,966.4 183.5,966 183.6,965.6C183.8,965.1 183.9,964.7 184.1,964.2C184.2,963.7 184.4,963.2 184.5,962.8C184.7,962.3 184.8,961.8 185,961.3C185.1,960.8 185.3,960.3 185.4,959.8C185.6,959.3 185.7,958.8 185.8,958.3C186,957.8 186.1,957.2 186.3,956.7C186.4,956.1 186.6,955.5 186.7,954.8C186.9,954.2 187,953.5 187.2,952.7C187.3,952 187.5,951.2 187.6,950.3C187.8,949.5 187.9,948.5 188.1,947.6C188.2,946.7 188.4,945.7 188.5,944.7C188.6,943.6 188.8,942.6 188.9,941.5C189.1,940.4 189.2,939.2 189.4,938C189.5,936.8 189.7,935.6 189.8,934.3C190,933 190.1,931.7 190.3,930.3C190.4,928.9 190.6,927.5 190.7,926C190.9,924.5 191,922.9 191.2,921.3C191.3,919.7 191.4,918 191.6,916.3C191.7,914.6 191.9,912.8 192,910.9C192.2,909.1 192.3,907.2 192.5,905.2C192.6,903.2 192.8,901.1 192.9,899C193.1,896.9 193.2,894.7 193.4,892.5C193.5,890.2 193.7,887.9 193.8,885.5C194,883.1 194.1,880.6 194.3,878C194.4,875.5 194.5,872.9 194.7,870.2C194.8,867.5 195,864.7 195.1,861.9C195.3,859 195.4,856.1 195.6,853.1C195.7,850.1 195.9,847 196,843.9C196.2,840.7 196.3,837.5 196.5,834.2C196.6,830.9 196.8,827.6 196.9,824.1C197.1,820.7 197.2,817.2 197.3,813.6C197.5,810 197.6,806.4 197.8,802.7C197.9,799 198.1,795.2 198.2,791.4C198.4,787.6 198.5,783.7 198.7,779.8C198.8,775.8 199,771.9 199.1,767.8C199.3,763.8 199.4,759.7 199.6,755.6C199.7,751.6 199.9,747.4 200,743.3C200.1,739.1 200.3,734.9 200.4,730.8C200.6,726.6 200.7,722.4 200.9,718.2C201,714 201.2,709.9 201.3,705.7C201.5,701.6 201.6,697.4 201.8,693.4C201.9,689.3 202.1,685.3 202.2,681.3C202.4,677.3 202.5,673.4 202.7,669.6C202.8,665.8 202.9,662.1 203.1,658.5C203.2,654.9 203.4,651.4 203.5,648.1C203.7,644.7 203.8,641.5 204,638.5C204.1,635.5 204.3,632.6 204.4,629.9C204.6,627.2 204.7,624.7 204.9,622.5C205,620.2 205.2,618.2 205.3,616.3C205.5,614.5 205.6,612.9 205.8,611.6C205.9,610.3 206,609.2 206.2,608.4C206.3,607.6 206.5,607.1 206.6,606.8C206.8,606.5 206.9,606.5 207.1,606.8C207.2,607.1 207.4,607.8 207.5,608.7C207.7,609.6 207.8,610.8 208,612.3C208.1,613.8 208.3,615.6 208.4,617.7C208.6,619.7 208.7,622.1 208.8,624.6C209,627.2 209.1,630 209.3,633C209.4,636 209.6,639.3 209.7,642.7C209.9,646 210,649.6 210.2,653.4C210.3,657.1 210.5,661 210.6,664.9C210.8,668.9 210.9,673 211.1,677.2C211.2,681.4 211.4,685.7 211.5,690C211.6,694.3 211.8,698.7 211.9,703.1C212.1,707.5 212.2,712 212.4,716.4C212.5,720.9 212.7,725.4 212.8,729.8C213,734.3 213.1,738.8 213.3,743.2C213.4,747.6 213.6,752.1 213.7,756.4C213.9,760.8 214,765.2 214.2,769.4C214.3,773.7 214.5,778 214.6,782.1C214.7,786.3 214.9,790.4 215,794.5C215.2,798.5 215.3,802.5 215.5,806.4C215.6,810.3 215.8,814.2 215.9,817.9C216.1,821.7 216.2,825.4 216.4,829C216.5,832.6 216.7,836.1 216.8,839.5C217,842.9 217.1,846.3 217.3,849.5C217.4,852.7 217.5,855.8 217.7,858.9C217.8,861.9 218,864.9 218.1,867.7C218.3,870.6 218.4,873.4 218.6,876C218.7,878.7 218.9,881.3 219,883.8C219.2,886.3 219.3,888.7 219.5,891C219.6,893.4 219.8,895.6 219.9,897.8C220.1,899.9 220.2,902 220.3,904C220.5,906 220.6,907.9 220.8,909.7C220.9,911.6 221.1,913.3 221.2,915C221.4,916.7 221.5,918.4 221.7,919.9C221.8,921.5 222,923 222.1,924.4C222.3,925.8 222.4,927.2 222.6,928.5C222.7,929.8 222.9,931.1 223,932.3C223.2,933.5 223.3,934.6 223.4,935.7C223.6,936.8 223.7,937.9 223.9,938.9C224,939.9 224.2,940.9 224.3,941.8C224.5,942.7 224.6,943.6 224.8,944.4C224.9,945.3 225.1,946.1 225.2,946.8C225.4,947.6 225.5,948.4 225.7,949.1C225.8,949.8 226,950.5 226.1,951.1C226.2,951.8 226.4,952.4 226.5,953C226.7,953.7 226.8,954.2 227,954.8C227.1,955.4 227.3,955.9 227.4,956.4C227.6,956.9 227.7,957.4 227.9,957.8C228,958.3 228.2,958.8 228.3,959.2C228.5,959.6 228.6,960 228.8,960.4C228.9,960.8 229,961.2 229.2,961.5C229.3,961.9 229.5,962.2 229.6,962.6C229.8,962.9 229.9,963.3 230.1,963.6C230.2,963.9 230.4,964.2 230.5,964.5C230.7,964.9 230.8,965.2 231,965.5C231.1,965.8 231.3,966.1 231.4,966.4C231.6,966.7 231.7,966.9 231.8,967.2C232,967.5 232.1,967.8 232.3,968.1C232.4,968.3 232.6,968.6 232.7,968.9C232.9,969.1 233,969.4 233.2,969.6C233.3,969.9 233.5,970.1 233.6,970.4C233.8,970.6 233.9,970.8 234.1,971.1C234.2,971.3 234.4,971.5 234.5,971.8C234.7,972 234.8,972.2 234.9,972.4C235.1,972.6 234.7,972.2 235.4,973C236.1,973.9 238,976.3 239.3,977.7C240.6,979 241.9,980.1 243.1,981.1C244.4,982.2 245.7,983.1 247,984C248.3,984.9 249.6,985.7 250.9,986.5C252.2,987.3 253.5,988.1 254.8,988.9C256.1,989.6 257.4,990.3 258.7,990.9C260,991.5 261.2,991.9 262.5,992.4C263.8,992.9 265.1,993.4 266.4,993.8C267.7,994.2 269,994.6 270.3,995C271.6,995.3 272.9,995.6 274.2,995.9C275.5,996.2 276.8,996.4 278,996.6C279.3,996.8 280.6,997 281.9,997.2C283.2,997.3 284.5,997.5 285.8,997.6C287.1,997.8 288.4,997.9 289.7,998C291,998.1 292.3,998.3 293.6,998.4C294.9,998.5 296.1,998.6 297.4,998.8C298.7,998.9 300,999.1 301.3,999.2C302.6,999.4 303.9,999.5 305.2,999.7C306.5,999.8 307.8,1000 309.1,1000.2C310.4,1000.4 311.7,1000.5 313,1000.7C314.2,1000.8 315.5,1001 316.8,1001.1C318.1,1001.3 319.4,1001.4 320.7,1001.6C322,1001.7 323.3,1001.8 324.6,1001.9C325.9,1002 327.2,1002 328.5,1002.1C329.8,1002.1 331.1,1002.1 332.3,1002.1C333.6,1002.2 334.9,1002.2 336.2,1002.2C337.5,1002.2 338.8,1002.2 340.1,1002.3C341.4,1002.3 342.7,1002.3 344,1002.3C345.3,1002.3 346.6,1002.3 347.9,1002.4C349.2,1002.4 350.4,1002.4 351.7,1002.4C353,1002.4 354.3,1002.4 355.6,1002.4C356.9,1002.5 358.2,1002.5 359.5,1002.5C360.8,1002.5 362.1,1002.5 363.4,1002.5C364.7,1002.5 366,1002.5 367.2,1002.5C368.5,1002.6 369.8,1002.6 371.1,1002.6C372.4,1002.6 373.7,1002.6 375,1002.6C376.3,1002.6 377.6,1002.6 378.9,1002.6C380.2,1002.7 381.5,1002.7 382.8,1002.7C384.1,1002.7 385.3,1002.8 386.6,1002.8C387.9,1002.8 389.2,1002.9 390.5,1002.9C391.8,1002.9 393.1,1003 394.4,1003C395.7,1003 397,1003.1 398.3,1003.1C399.6,1003.1 400.9,1003.2 402.2,1003.2C403.4,1003.2 404.7,1003.2 406,1003.2C407.3,1003.2 408.6,1003.2 409.9,1003.1C411.2,1003.1 412.5,1003 413.8,1002.9C415.1,1002.8 416.4,1002.8 417.7,1002.7C419,1002.6 420.3,1002.5 421.5,1002.4C422.8,1002.2 424.1,1002.1 425.4,1001.9C426.7,1001.7 428,1001.5 429.3,1001.4C430.6,1001.2 431.9,1001.1 433.2,1001C434.5,1000.9 435.8,1000.9 437.1,1000.8C438.3,1000.8 439.6,1000.8 440.9,1000.7C442.2,1000.7 443.5,1000.7 444.8,1000.7C446.1,1000.6 447.4,1000.6 448.7,1000.6C450,1000.6 451.3,1000.6 452.6,1000.6C453.9,1000.6 455.2,1000.7 456.4,1000.8C457.7,1000.8 459,1001 460.3,1001.1C461.6,1001.2 462.9,1001.4 464.2,1001.5C465.5,1001.7 466.8,1001.8 468.1,1002C469.4,1002.1 470.7,1002.3 472,1002.4C473.3,1002.5 474.5,1002.6 475.8,1002.7C477.1,1002.7 478.4,1002.8 479.7,1002.9C481,1003 482.3,1003.1 483.6,1003.1C484.9,1003.2 486.2,1003.3 487.5,1003.3C488.8,1003.4 490.1,1003.5 491.4,1003.5C492.6,1003.6 493.9,1003.6 495.2,1003.7C496.5,1003.7 497.8,1003.8 499.1,1003.8C500.4,1003.8 501.7,1003.8 503,1003.8C504.3,1003.9 505.6,1003.9 506.9,1003.9C508.2,1003.9 509.5,1003.9 510.7,1004C512,1004 513.3,1004 514.6,1004C515.9,1004 517.2,1004 518.5,1004C519.8,1004.1 521.1,1004.1 522.4,1004.1C523.7,1004.1 525,1004.1 526.3,1004.1C527.5,1004.1 528.8,1004.1 530.1,1004.1C531.4,1004.2 532.7,1004.2 534,1004.2C535.3,1004.2 536.6,1004.2 537.9,1004.2C539.2,1004.2 540.5,1004.2 541.8,1004.2C543.1,1004.2 544.4,1004.2 545.6,1004.3C546.9,1004.3 548.2,1004.3 549.5,1004.3C550.8,1004.3 552.1,1004.3 553.4,1004.3C554.7,1004.3 556,1004.3 557.3,1004.3C558.6,1004.3 559.9,1004.3 561.2,1004.4C562.5,1004.4 563.7,1004.4 565,1004.4C566.3,1004.4 567.6,1004.4 568.9,1004.4C570.2,1004.4 571.5,1004.4 572.8,1004.4C574.1,1004.4 575.4,1004.5 576.7,1004.5C578,1004.5 579.3,1004.5 580.6,1004.5C581.8,1004.5 583.1,1004.5 584.4,1004.5C585.7,1004.5 587,1004.6 588.3,1004.6C589.6,1004.6 590.9,1004.6 592.2,1004.6C593.5,1004.6 594.8,1004.6 596.1,1004.6C597.4,1004.7 598.7,1004.7 599.9,1004.7C601.2,1004.7 602.5,1004.7 603.8,1004.7C605.1,1004.7 606.4,1004.7 607.7,1004.8C609,1004.8 610.3,1004.8 611.6,1004.8C612.9,1004.8 614.2,1004.8 615.5,1004.8C616.7,1004.9 618,1004.9 619.3,1004.9C620.6,1004.9 621.9,1004.9 623.2,1004.9C624.5,1004.9 625.8,1004.9 627.1,1005C628.4,1005 629.7,1005 631,1005C632.3,1005 633.6,1005 634.8,1005C636.1,1005.1 637.4,1005.1 638.7,1005.1C640,1005.1 641.3,1005.1 642.6,1005.1C643.9,1005.1 645.2,1005.2 646.5,1005.2C647.8,1005.2 649.1,1005.2 650.4,1005.2C651.7,1005.2 652.9,1005.3 654.2,1005.3C655.5,1005.3 656.8,1005.3 658.1,1005.3C659.4,1005.3 660.7,1005.3 662,1005.4C663.3,1005.4 664.6,1005.4 665.9,1005.4C667.2,1005.4 668.5,1005.4 669.8,1005.5C671,1005.5 672.3,1005.5 673.6,1005.5C674.9,1005.5 676.2,1005.5 677.5,1005.6C678.8,1005.6 680.1,1005.6 681.4,1005.6C682.7,1005.6 684,1005.6 685.3,1005.7C686.6,1005.7 687.9,1005.7 689.1,1005.7C690.4,1005.7 691.7,1005.7 693,1005.8C694.3,1005.8 696.3,1005.8 696.9,1005.8" fill="none" stroke="#2f78f5" stroke-width="1.75" stroke-linejoin="round"/><g stroke="#000" stroke-width="2.4"><rect x="102.5" y="566.8" width="594.4" height="479.2" fill="none" stroke="#000" stroke-width="2.5"/><line x1="97.5" y1="1045.8" x2="102.5" y2="1045.8"/><line x1="696.9" y1="1045.8" x2="692.9" y2="1045.8"/><line x1="93.0" y1="1005.9" x2="102.5" y2="1005.9"/><line x1="696.9" y1="1005.9" x2="688.4" y2="1005.9"/><line x1="97.5" y1="966.0" x2="102.5" y2="966.0"/><line x1="696.9" y1="966.0" x2="692.9" y2="966.0"/><line x1="93.0" y1="926.0" x2="102.5" y2="926.0"/><line x1="696.9" y1="926.0" x2="688.4" y2="926.0"/><line x1="97.5" y1="886.1" x2="102.5" y2="886.1"/><line x1="696.9" y1="886.1" x2="692.9" y2="886.1"/><line x1="93.0" y1="846.2" x2="102.5" y2="846.2"/><line x1="696.9" y1="846.2" x2="688.4" y2="846.2"/><line x1="97.5" y1="806.2" x2="102.5" y2="806.2"/><line x1="696.9" y1="806.2" x2="692.9" y2="806.2"/><line x1="93.0" y1="766.3" x2="102.5" y2="766.3"/><line x1="696.9" y1="766.3" x2="688.4" y2="766.3"/><line x1="97.5" y1="726.4" x2="102.5" y2="726.4"/><line x1="696.9" y1="726.4" x2="692.9" y2="726.4"/><line x1="93.0" y1="686.5" x2="102.5" y2="686.5"/><line x1="696.9" y1="686.5" x2="688.4" y2="686.5"/><line x1="97.5" y1="646.5" x2="102.5" y2="646.5"/><line x1="696.9" y1="646.5" x2="692.9" y2="646.5"/><line x1="93.0" y1="606.6" x2="102.5" y2="606.6"/><line x1="696.9" y1="606.6" x2="688.4" y2="606.6"/><line x1="97.5" y1="566.7" x2="102.5" y2="566.7"/><line x1="696.9" y1="566.7" x2="692.9" y2="566.7"/><line x1="102.5" y1="1046.0" x2="102.5" y2="1055.5"/><line x1="102.5" y1="566.8" x2="102.5" y2="575.8"/><line x1="161.9" y1="1046.0" x2="161.9" y2="1051.0"/><line x1="161.9" y1="566.8" x2="161.9" y2="571.3"/><line x1="221.4" y1="1046.0" x2="221.4" y2="1055.5"/><line x1="221.4" y1="566.8" x2="221.4" y2="575.8"/><line x1="280.8" y1="1046.0" x2="280.8" y2="1051.0"/><line x1="280.8" y1="566.8" x2="280.8" y2="571.3"/><line x1="340.3" y1="1046.0" x2="340.3" y2="1055.5"/><line x1="340.3" y1="566.8" x2="340.3" y2="575.8"/><line x1="399.7" y1="1046.0" x2="399.7" y2="1051.0"/><line x1="399.7" y1="566.8" x2="399.7" y2="571.3"/><line x1="459.1" y1="1046.0" x2="459.1" y2="1055.5"/><line x1="459.1" y1="566.8" x2="459.1" y2="575.8"/><line x1="518.6" y1="1046.0" x2="518.6" y2="1051.0"/><line x1="518.6" y1="566.8" x2="518.6" y2="571.3"/><line x1="578.0" y1="1046.0" x2="578.0" y2="1055.5"/><line x1="578.0" y1="566.8" x2="578.0" y2="575.8"/><line x1="637.5" y1="1046.0" x2="637.5" y2="1051.0"/><line x1="637.5" y1="566.8" x2="637.5" y2="571.3"/><line x1="696.9" y1="1046.0" x2="696.9" y2="1055.5"/><line x1="696.9" y1="566.8" x2="696.9" y2="575.8"/></g><g font-family="Liberation Sans" font-size="20.3" fill="#000"><text x="102.5" y="1077.9" text-anchor="middle">5</text><text x="221.4" y="1077.9" text-anchor="middle">10</text><text x="340.3" y="1077.9" text-anchor="middle">15</text><text x="459.1" y="1077.9" text-anchor="middle">20</text><text x="578.0" y="1077.9" text-anchor="middle">25</text><text x="696.9" y="1077.9" text-anchor="middle">30</text><text x="87" y="1012.1" text-anchor="end">0.0</text><text x="87" y="932.2" text-anchor="end">0.2</text><text x="87" y="852.4" text-anchor="end">0.4</text><text x="87" y="772.5" text-anchor="end">0.6</text><text x="87" y="692.7" text-anchor="end">0.8</text><text x="87" y="612.8" text-anchor="end">1.0</text></g><text x="392" y="1116" text-anchor="middle" font-family="Liberation Sans" font-size="24.7">2 theta (deg)</text><text transform="translate(48.7,805.5) rotate(-90)" text-anchor="middle" font-family="Liberation Sans" font-size="25">Intensity (a.u.)</text><rect x="371.8" y="716.2" width="289.5" height="197.0" fill="#fff" stroke="#1a1a1a" stroke-width="1.5"/><path d="M372.6,908.3C373.1,908.3 374.7,908.2 375.8,908.1C376.9,908 377.9,907.9 379,907.8C380.1,907.8 381.2,907.7 382.2,907.6C383.3,907.5 384.4,907.4 385.4,907.3C386.5,907.3 387.6,907.2 388.6,907.1C389.7,907 390.8,906.9 391.8,906.8C392.9,906.7 394,906.6 395.1,906.5C396.1,906.4 397.2,906.3 398.3,906.2C399.3,906.1 400.4,906 401.5,905.8C402.5,905.7 403.6,905.6 404.7,905.5C405.7,905.3 406.8,905.2 407.9,905.1C409,904.9 410,904.8 411.1,904.6C412.2,904.5 413.2,904.3 414.3,904.1C415.4,903.9 416.4,903.8 417.5,903.6C418.6,903.4 419.6,903.2 420.7,903C421.8,902.8 422.9,902.6 423.9,902.3C425,902.1 426.1,901.9 427.1,901.6C428.2,901.3 429.3,901.1 430.3,900.8C431.4,900.5 432.5,900.2 433.5,899.8C434.6,899.5 435.7,899.1 436.8,898.8C437.8,898.4 438.9,898 440,897.6C441,897.2 442.1,896.8 443.2,896.4C444.2,895.9 445.3,895.4 446.4,894.9C447.4,894.3 448.9,893.4 449.6,893C450.2,892.6 450.1,892.7 450.3,892.5C450.6,892.3 450.8,892.2 451.1,892C451.3,891.8 451.6,891.7 451.8,891.5C452.1,891.3 452.3,891.2 452.6,891C452.8,890.8 453.1,890.7 453.3,890.5C453.6,890.3 453.8,890.1 454.1,890C454.3,889.8 454.6,889.6 454.8,889.4C455.1,889.2 455.3,889 455.6,888.8C455.8,888.6 456.1,888.4 456.4,888.1C456.6,887.9 456.9,887.6 457.1,887.4C457.4,887.1 457.6,886.8 457.9,886.5C458.1,886.3 458.4,885.9 458.6,885.6C458.9,885.3 459.1,884.9 459.4,884.6C459.6,884.2 459.9,883.9 460.1,883.5C460.4,883.1 460.6,882.7 460.9,882.3C461.1,881.9 461.4,881.4 461.6,881C461.9,880.6 462.1,880.1 462.4,879.6C462.6,879.1 462.9,878.6 463.1,878.1C463.4,877.6 463.6,877.1 463.9,876.5C464.1,875.9 464.4,875.4 464.6,874.8C464.9,874.2 465.1,873.6 465.4,872.9C465.6,872.3 465.9,871.6 466.1,870.9C466.4,870.2 466.6,869.5 466.9,868.8C467.1,868 467.4,867.2 467.6,866.5C467.9,865.7 468.1,864.8 468.4,864C468.6,863.1 468.9,862.3 469.1,861.4C469.4,860.5 469.6,859.5 469.9,858.6C470.1,857.6 470.4,856.6 470.6,855.6C470.9,854.5 471.1,853.5 471.4,852.4C471.6,851.3 471.9,850.2 472.1,849C472.4,847.9 472.6,846.7 472.9,845.5C473.1,844.3 473.4,843 473.6,841.7C473.9,840.4 474.2,839.1 474.4,837.8C474.7,836.4 474.9,835 475.2,833.6C475.4,832.2 475.7,830.7 475.9,829.2C476.2,827.8 476.4,826.2 476.7,824.7C476.9,823.1 477.2,821.5 477.4,819.9C477.7,818.3 477.9,816.7 478.2,815C478.4,813.3 478.7,811.6 478.9,809.9C479.2,808.1 479.4,806.4 479.7,804.6C479.9,802.8 480.2,801 480.4,799.1C480.7,797.3 480.9,795.5 481.2,793.6C481.4,791.7 481.7,789.8 481.9,787.9C482.2,786 482.4,784.1 482.7,782.1C482.9,780.2 483.2,778.3 483.4,776.3C483.7,774.4 483.9,772.4 484.2,770.5C484.4,768.6 484.7,766.6 484.9,764.7C485.2,762.8 485.4,760.9 485.7,759C485.9,757.1 486.2,755.2 486.4,753.4C486.7,751.6 486.9,749.7 487.2,748C487.4,746.2 487.7,744.5 487.9,742.8C488.2,741.2 488.4,739.6 488.7,738C488.9,736.5 489.2,735 489.4,733.6C489.7,732.2 489.9,730.9 490.2,729.6C490.4,728.4 490.7,727.3 490.9,726.2C491.2,725.2 491.4,724.2 491.7,723.4C492,722.6 492.2,721.8 492.5,721.2C492.7,720.6 493,720.1 493.2,719.7C493.5,719.4 493.7,719.1 494,719C494.2,718.9 494.5,718.9 494.7,719C495,719.2 495.2,719.5 495.5,719.9C495.7,720.4 496,721 496.2,721.7C496.5,722.4 496.7,723.3 497,724.3C497.2,725.3 497.5,726.5 497.7,727.7C498,729 498.2,730.4 498.5,731.8C498.7,733.3 499,734.9 499.2,736.5C499.5,738.2 499.7,739.9 500,741.7C500.2,743.6 500.5,745.4 500.7,747.4C501,749.3 501.2,751.3 501.5,753.3C501.7,755.3 502,757.4 502.2,759.5C502.5,761.6 502.7,763.7 503,765.8C503.2,768 503.5,770.1 503.7,772.2C504,774.4 504.2,776.5 504.5,778.7C504.7,780.8 505,783 505.2,785.1C505.5,787.2 505.7,789.3 506,791.4C506.2,793.5 506.5,795.5 506.7,797.6C507,799.6 507.2,801.6 507.5,803.6C507.7,805.6 508,807.5 508.2,809.5C508.5,811.4 508.7,813.3 509,815.1C509.2,817 509.5,818.8 509.8,820.6C510,822.3 510.3,824.1 510.5,825.8C510.8,827.5 511,829.1 511.3,830.7C511.5,832.4 511.8,833.9 512,835.5C512.3,837 512.5,838.5 512.8,840C513,841.4 513.3,842.8 513.5,844.2C513.8,845.6 514,846.9 514.3,848.1C514.5,849.4 514.8,850.6 515,851.8C515.3,853 515.5,854.2 515.8,855.3C516,856.4 516.3,857.4 516.5,858.5C516.8,859.5 517,860.5 517.3,861.4C517.5,862.4 517.8,863.3 518,864.2C518.3,865.1 518.5,865.9 518.8,866.7C519,867.5 519.3,868.3 519.5,869C519.8,869.8 520,870.5 520.3,871.2C520.5,871.8 520.8,872.5 521,873.1C521.3,873.8 521.5,874.3 521.8,874.9C522,875.5 522.3,876 522.5,876.6C522.8,877.1 523,877.6 523.3,878.1C523.5,878.6 523.8,879 524,879.4C524.3,879.9 524.5,880.3 524.8,880.7C525,881.1 525.3,881.5 525.5,881.9C525.8,882.2 526,882.6 526.3,882.9C526.5,883.3 526.8,883.6 527,883.9C527.3,884.2 527.5,884.5 527.8,884.8C528.1,885.1 528.3,885.4 528.6,885.6C528.8,885.9 529.1,886.1 529.3,886.4C529.6,886.7 529.8,886.9 530.1,887.1C530.3,887.4 530.6,887.6 530.8,887.8C531.1,888 531.3,888.3 531.6,888.5C531.8,888.7 532.1,888.9 532.3,889.1C532.6,889.3 532.8,889.5 533.1,889.7C533.3,889.9 533.6,890.1 533.8,890.3C534.1,890.5 534.3,890.7 534.6,890.9C534.8,891 535.1,891.2 535.3,891.4C535.6,891.5 535.8,891.7 536.1,891.9C536.3,892 536.6,892.2 536.8,892.3C537.1,892.5 537.3,892.6 537.6,892.8C537.8,892.9 538.1,893 538.3,893.2C538.6,893.3 538.4,893.3 539.1,893.6C539.7,893.9 541.2,894.6 542.2,895C543.2,895.4 544.3,895.8 545.3,896.2C546.3,896.5 547.4,896.9 548.4,897.2C549.5,897.6 550.5,897.9 551.5,898.3C552.6,898.6 553.6,898.9 554.6,899.2C555.7,899.6 556.7,899.9 557.8,900.2C558.8,900.5 559.8,900.7 560.9,901C561.9,901.3 563,901.5 564,901.8C565,902 566.1,902.3 567.1,902.5C568.1,902.8 569.2,903 570.2,903.3C571.3,903.5 572.3,903.7 573.3,903.9C574.4,904.2 575.4,904.4 576.4,904.6C577.5,904.8 578.5,904.9 579.6,905.1C580.6,905.3 581.6,905.4 582.7,905.6C583.7,905.7 584.7,905.9 585.8,906C586.8,906.2 587.9,906.3 588.9,906.4C589.9,906.5 591,906.7 592,906.8C593,906.9 594.1,907 595.1,907.1C596.2,907.2 597.2,907.3 598.2,907.4C599.3,907.5 600.3,907.6 601.3,907.6C602.4,907.7 603.4,907.8 604.5,907.9C605.5,908 606.5,908 607.6,908.1C608.6,908.2 609.6,908.3 610.7,908.3C611.7,908.4 612.8,908.5 613.8,908.5C614.8,908.6 615.9,908.6 616.9,908.7C618,908.8 619,908.8 620,908.9C621.1,908.9 622.1,909 623.1,909C624.2,909.1 625.2,909.1 626.3,909.2C627.3,909.2 628.3,909.3 629.4,909.3C630.4,909.4 631.4,909.4 632.5,909.5C633.5,909.5 634.6,909.5 635.6,909.6C636.6,909.6 637.7,909.7 638.7,909.7C639.7,909.8 640.8,909.8 641.8,909.8C642.9,909.9 643.9,909.9 644.9,910C646,910 647,910 648,910.1C649.1,910.1 650.1,910.1 651.2,910.2C652.2,910.2 653.2,910.3 654.3,910.3C655.3,910.3 656.3,910.4 657.4,910.4C658.4,910.4 660,910.5 660.5,910.5" fill="none" stroke="#465252" stroke-width="1.2"/><path d="M372.6,911.4C373.3,911.4 375.5,911.2 377,911.1C378.5,911.1 379.9,911 381.4,910.9C382.8,910.8 384.3,910.7 385.8,910.6C387.2,910.5 388.7,910.4 390.2,910.3C391.6,910.2 393.1,910 394.5,909.9C396,909.8 397.5,909.7 398.9,909.5C400.4,909.4 401.9,909.3 403.3,909.2C404.8,909 406.3,908.9 407.7,908.8C409.2,908.7 410.6,908.6 412.1,908.5C413.6,908.4 415,908.3 416.5,908.1C418,908 419.4,907.9 420.9,907.8C422.3,907.7 423.8,907.5 425.3,907.4C426.7,907.3 428.2,907.1 429.7,907C431.1,906.8 432.6,906.7 434.1,906.5C435.5,906.3 437,906.2 438.4,906C439.9,905.8 441.4,905.6 442.8,905.4C444.3,905.2 445.8,905 447.2,904.7C448.7,904.5 450.1,904.2 451.6,903.9C453.1,903.6 454.5,903.3 456,903C457.5,902.6 458.9,902.2 460.4,901.7C461.8,901.2 463.3,900.6 464.8,900C466.2,899.4 467.7,898.7 469.2,898C470.6,897.3 472.1,896.5 473.6,895.5C475,894.6 477.1,892.9 477.9,892.2C478.8,891.6 478.4,891.8 478.7,891.5C478.9,891.3 479.2,891.1 479.4,890.8C479.7,890.6 479.9,890.4 480.2,890.1C480.5,889.9 480.7,889.6 481,889.4C481.2,889.1 481.5,888.9 481.7,888.6C482,888.3 482.2,888.1 482.5,887.8C482.7,887.5 483,887.2 483.2,886.9C483.5,886.6 483.7,886.3 484,885.9C484.2,885.6 484.5,885.2 484.7,884.8C485,884.5 485.2,884.1 485.5,883.6C485.7,883.2 486,882.8 486.2,882.3C486.5,881.8 486.7,881.3 487,880.8C487.2,880.3 487.5,879.8 487.7,879.3C488,878.7 488.2,878.1 488.5,877.6C488.7,877 489,876.4 489.2,875.8C489.5,875.1 489.7,874.5 490,873.8C490.2,873.2 490.5,872.5 490.7,871.8C491,871.1 491.2,870.4 491.5,869.7C491.7,868.9 492,868.2 492.2,867.4C492.5,866.6 492.7,865.8 493,865C493.2,864.1 493.5,863.3 493.7,862.4C494,861.5 494.2,860.6 494.5,859.7C494.7,858.8 495,857.9 495.2,856.9C495.5,856 495.7,855 496,854C496.2,852.9 496.5,851.9 496.7,850.9C497,849.8 497.2,848.7 497.5,847.6C497.7,846.5 498,845.4 498.3,844.2C498.5,843.1 498.8,841.9 499,840.7C499.3,839.5 499.5,838.3 499.8,837C500,835.8 500.3,834.5 500.5,833.2C500.8,831.9 501,830.6 501.3,829.3C501.5,827.9 501.8,826.6 502,825.2C502.3,823.8 502.5,822.4 502.8,821C503,819.6 503.3,818.1 503.5,816.6C503.8,815.2 504,813.7 504.3,812.2C504.5,810.7 504.8,809.2 505,807.6C505.3,806.1 505.5,804.5 505.8,803C506,801.4 506.3,799.8 506.5,798.2C506.8,796.6 507,795 507.3,793.4C507.5,791.7 507.8,790.1 508,788.5C508.3,786.8 508.5,785.1 508.8,783.5C509,781.8 509.3,780.2 509.5,778.5C509.8,776.8 510,775.1 510.3,773.5C510.5,771.8 510.8,770.1 511,768.5C511.3,766.8 511.5,765.2 511.8,763.5C512,761.9 512.3,760.3 512.5,758.6C512.8,757 513,755.4 513.3,753.9C513.5,752.3 513.8,750.7 514,749.2C514.3,747.7 514.5,746.2 514.8,744.8C515,743.3 515.3,741.9 515.5,740.6C515.8,739.2 516,737.9 516.3,736.6C516.6,735.3 516.8,734.1 517.1,732.9C517.3,731.8 517.6,730.6 517.8,729.6C518.1,728.6 518.3,727.6 518.6,726.7C518.8,725.8 519.1,724.9 519.3,724.2C519.6,723.4 519.8,722.7 520.1,722.1C520.3,721.5 520.6,721 520.8,720.6C521.1,720.1 521.3,719.8 521.6,719.5C521.8,719.2 522.1,719 522.3,719C522.6,718.9 522.8,718.9 523.1,719C523.3,719.2 523.6,719.4 523.8,719.8C524.1,720.3 524.3,720.8 524.6,721.5C524.8,722.2 525.1,723 525.3,723.9C525.6,724.9 525.8,725.9 526.1,727.1C526.3,728.3 526.6,729.5 526.8,730.9C527.1,732.3 527.3,733.8 527.6,735.3C527.8,736.9 528.1,738.5 528.3,740.2C528.6,741.9 528.8,743.7 529.1,745.5C529.3,747.4 529.6,749.3 529.8,751.2C530.1,753.1 530.3,755.1 530.6,757.1C530.8,759.1 531.1,761.2 531.3,763.2C531.6,765.3 531.8,767.4 532.1,769.5C532.3,771.6 532.6,773.7 532.8,775.7C533.1,777.8 533.3,779.9 533.6,782C533.8,784.1 534.1,786.2 534.4,788.3C534.6,790.4 534.9,792.4 535.1,794.5C535.4,796.5 535.6,798.5 535.9,800.5C536.1,802.5 536.4,804.5 536.6,806.4C536.9,808.3 537.1,810.3 537.4,812.1C537.6,814 537.9,815.9 538.1,817.7C538.4,819.5 538.6,821.3 538.9,823.1C539.1,824.8 539.4,826.5 539.6,828.2C539.9,829.9 540.1,831.5 540.4,833.1C540.6,834.7 540.9,836.3 541.1,837.8C541.4,839.3 541.6,840.8 541.9,842.3C542.1,843.7 542.4,845.1 542.6,846.5C542.9,847.9 543.1,849.2 543.4,850.5C543.6,851.8 543.9,853 544.1,854.2C544.4,855.5 544.6,856.6 544.9,857.8C545.1,858.9 545.4,860 545.6,861.1C545.9,862.2 546.1,863.2 546.4,864.2C546.6,865.2 546.9,866.2 547.1,867.1C547.4,868 547.6,868.9 547.9,869.8C548.1,870.7 548.4,871.5 548.6,872.3C548.9,873.1 549.1,873.9 549.4,874.6C549.6,875.4 549.9,876.1 550.1,876.8C550.4,877.5 550.6,878.1 550.9,878.8C551.1,879.4 551.4,880 551.6,880.6C551.9,881.2 552.2,881.8 552.4,882.3C552.7,882.8 552.9,883.4 553.2,883.9C553.4,884.4 553.7,884.9 553.9,885.3C554.2,885.8 554.4,886.2 554.7,886.6C554.9,887.1 555.2,887.5 555.4,887.9C555.7,888.3 555.9,888.6 556.2,889C556.4,889.4 556.7,889.7 556.9,890C557.2,890.4 557.4,890.7 557.7,891C557.9,891.3 558.2,891.6 558.4,891.9C558.7,892.2 558.9,892.4 559.2,892.7C559.4,892.9 559.7,893.2 559.9,893.4C560.2,893.6 560.4,893.9 560.7,894.1C560.9,894.3 561.2,894.5 561.4,894.7C561.7,894.9 561.9,895.1 562.2,895.2C562.4,895.4 562.7,895.6 562.9,895.8C563.2,895.9 563.4,896.1 563.7,896.2C563.9,896.4 564.2,896.5 564.4,896.7C564.7,896.8 564.9,896.9 565.2,897.1C565.4,897.2 565.7,897.3 565.9,897.5C566.2,897.6 566.4,897.7 566.7,897.8C566.9,897.9 566.9,897.9 567.4,898.2C568,898.4 569,898.9 569.8,899.2C570.6,899.6 571.4,899.9 572.2,900.2C573,900.6 573.8,900.9 574.6,901.2C575.4,901.5 576.2,901.9 577,902.2C577.8,902.5 578.6,902.8 579.4,903.1C580.2,903.3 581,903.6 581.8,903.9C582.6,904.2 583.4,904.4 584.1,904.7C584.9,904.9 585.7,905.1 586.5,905.3C587.3,905.6 588.1,905.7 588.9,905.9C589.7,906.1 590.5,906.2 591.3,906.4C592.1,906.5 592.9,906.7 593.7,906.8C594.5,906.9 595.3,907.1 596.1,907.2C596.9,907.3 597.7,907.4 598.5,907.5C599.3,907.6 600.1,907.8 600.8,907.9C601.6,908 602.4,908 603.2,908.1C604,908.2 604.8,908.3 605.6,908.4C606.4,908.5 607.2,908.6 608,908.7C608.8,908.7 609.6,908.8 610.4,908.9C611.2,909 612,909 612.8,909.1C613.6,909.2 614.4,909.2 615.2,909.3C616,909.4 616.8,909.4 617.6,909.5C618.3,909.5 619.1,909.6 619.9,909.7C620.7,909.7 621.5,909.8 622.3,909.8C623.1,909.9 623.9,909.9 624.7,910C625.5,910 626.3,910.1 627.1,910.1C627.9,910.2 628.7,910.2 629.5,910.3C630.3,910.3 631.1,910.3 631.9,910.4C632.7,910.4 633.5,910.5 634.3,910.5C635,910.5 635.8,910.6 636.6,910.6C637.4,910.6 638.2,910.7 639,910.7C639.8,910.8 640.6,910.8 641.4,910.8C642.2,910.9 643,910.9 643.8,910.9C644.6,911 645.4,911 646.2,911C647,911 647.8,911.1 648.6,911.1C649.4,911.1 650.2,911.2 651,911.2C651.8,911.2 652.5,911.2 653.3,911.3C654.1,911.3 654.9,911.3 655.7,911.4C656.5,911.4 657.3,911.4 658.1,911.4C658.9,911.5 660.1,911.5 660.5,911.5" fill="none" stroke="#ff1a40" stroke-width="1.2"/><path d="M372.6,909.9C373.1,909.8 374.6,909.7 375.6,909.7C376.6,909.6 377.6,909.5 378.6,909.5C379.7,909.4 380.7,909.3 381.7,909.3C382.7,909.2 383.7,909.1 384.7,909C385.7,909 386.7,908.9 387.7,908.8C388.7,908.7 389.7,908.6 390.7,908.5C391.7,908.5 392.7,908.4 393.8,908.3C394.8,908.2 395.8,908.1 396.8,908C397.8,907.9 398.8,907.8 399.8,907.7C400.8,907.6 401.8,907.4 402.8,907.3C403.8,907.2 404.8,907.1 405.8,906.9C406.8,906.8 407.9,906.7 408.9,906.5C409.9,906.4 410.9,906.2 411.9,906.1C412.9,905.9 413.9,905.7 414.9,905.5C415.9,905.3 416.9,905.2 417.9,905C418.9,904.8 419.9,904.5 420.9,904.3C422,904.1 423,903.9 424,903.6C425,903.4 426,903.1 427,902.8C428,902.5 429,902.2 430,901.9C431,901.6 432,901.2 433,900.8C434,900.5 435,900.1 436.1,899.7C437.1,899.3 438.1,898.9 439.1,898.4C440.1,897.9 441.1,897.4 442.1,896.9C443.1,896.3 444.5,895.4 445.1,895C445.7,894.6 445.6,894.6 445.9,894.4C446.1,894.2 446.4,894 446.6,893.8C446.9,893.6 447.1,893.4 447.4,893.2C447.6,893 447.9,892.8 448.1,892.6C448.4,892.4 448.6,892.1 448.9,891.9C449.1,891.7 449.4,891.5 449.6,891.3C449.9,891.1 450.1,890.8 450.4,890.6C450.6,890.4 450.9,890.1 451.1,889.9C451.4,889.6 451.6,889.4 451.9,889.1C452.1,888.8 452.4,888.5 452.6,888.2C452.9,887.8 453.1,887.5 453.4,887.1C453.6,886.8 453.9,886.4 454.1,886C454.4,885.6 454.6,885.2 454.9,884.7C455.1,884.3 455.4,883.9 455.6,883.4C455.9,882.9 456.1,882.4 456.4,881.9C456.6,881.4 456.9,880.9 457.1,880.4C457.4,879.9 457.7,879.3 457.9,878.7C458.2,878.2 458.4,877.6 458.7,877C458.9,876.3 459.2,875.7 459.4,875C459.7,874.4 459.9,873.7 460.2,873C460.4,872.3 460.7,871.6 460.9,870.8C461.2,870.1 461.4,869.3 461.7,868.5C461.9,867.7 462.2,866.9 462.4,866.1C462.7,865.2 462.9,864.3 463.2,863.4C463.4,862.5 463.7,861.6 463.9,860.7C464.2,859.7 464.4,858.7 464.7,857.7C464.9,856.7 465.2,855.7 465.4,854.6C465.7,853.5 465.9,852.4 466.2,851.3C466.4,850.2 466.7,849 466.9,847.8C467.2,846.6 467.4,845.4 467.7,844.2C467.9,842.9 468.2,841.7 468.4,840.3C468.7,839 468.9,837.7 469.2,836.3C469.4,835 469.7,833.6 469.9,832.2C470.2,830.7 470.4,829.3 470.7,827.8C470.9,826.3 471.2,824.8 471.4,823.3C471.7,821.7 471.9,820.2 472.2,818.6C472.4,817 472.7,815.4 472.9,813.7C473.2,812.1 473.4,810.4 473.7,808.7C473.9,807 474.2,805.3 474.4,803.6C474.7,801.8 474.9,800.1 475.2,798.3C475.5,796.6 475.7,794.8 476,793C476.2,791.2 476.5,789.3 476.7,787.5C477,785.7 477.2,783.9 477.5,782C477.7,780.2 478,778.3 478.2,776.5C478.5,774.6 478.7,772.8 479,771C479.2,769.1 479.5,767.3 479.7,765.5C480,763.6 480.2,761.8 480.5,760C480.7,758.3 481,756.5 481.2,754.7C481.5,753 481.7,751.3 482,749.6C482.2,747.9 482.5,746.3 482.7,744.7C483,743.1 483.2,741.5 483.5,740C483.7,738.5 484,737.1 484.2,735.7C484.5,734.3 484.7,733 485,731.8C485.2,730.5 485.5,729.4 485.7,728.3C486,727.2 486.2,726.2 486.5,725.3C486.7,724.4 487,723.5 487.2,722.8C487.5,722.1 487.7,721.4 488,720.9C488.2,720.4 488.5,719.9 488.7,719.6C489,719.3 489.2,719.1 489.5,719C489.7,718.9 490,718.9 490.2,719C490.5,719.1 490.7,719.4 491,719.7C491.2,720.1 491.5,720.6 491.7,721.2C492,721.8 492.2,722.5 492.5,723.3C492.7,724.2 493,725.1 493.2,726.1C493.5,727.2 493.8,728.3 494,729.5C494.3,730.8 494.5,732.1 494.8,733.5C495,734.9 495.3,736.4 495.5,737.9C495.8,739.4 496,741.1 496.3,742.7C496.5,744.4 496.8,746.1 497,747.9C497.3,749.6 497.5,751.4 497.8,753.3C498,755.1 498.3,757 498.5,758.9C498.8,760.8 499,762.7 499.3,764.7C499.5,766.6 499.8,768.6 500,770.6C500.3,772.5 500.5,774.5 500.8,776.5C501,778.4 501.3,780.4 501.5,782.4C501.8,784.3 502,786.3 502.3,788.2C502.5,790.2 502.8,792.1 503,794C503.3,796 503.5,797.9 503.8,799.8C504,801.6 504.3,803.5 504.5,805.3C504.8,807.2 505,809 505.3,810.8C505.5,812.6 505.8,814.3 506,816C506.3,817.8 506.5,819.5 506.8,821.1C507,822.8 507.3,824.5 507.5,826.1C507.8,827.7 508,829.2 508.3,830.8C508.5,832.3 508.8,833.8 509,835.3C509.3,836.7 509.5,838.2 509.8,839.6C510,841 510.3,842.3 510.5,843.6C510.8,844.9 511,846.2 511.3,847.5C511.6,848.7 511.8,849.9 512.1,851.1C512.3,852.2 512.6,853.4 512.8,854.5C513.1,855.6 513.3,856.6 513.6,857.7C513.8,858.7 514.1,859.7 514.3,860.6C514.6,861.6 514.8,862.5 515.1,863.4C515.3,864.3 515.6,865.2 515.8,866C516.1,866.9 516.3,867.7 516.6,868.4C516.8,869.2 517.1,870 517.3,870.7C517.6,871.4 517.8,872.1 518.1,872.8C518.3,873.4 518.6,874.1 518.8,874.7C519.1,875.3 519.3,875.9 519.6,876.5C519.8,877 520.1,877.6 520.3,878.1C520.6,878.6 520.8,879.1 521.1,879.6C521.3,880.1 521.6,880.6 521.8,881C522.1,881.5 522.3,881.9 522.6,882.3C522.8,882.7 523.1,883.1 523.3,883.5C523.6,883.9 523.8,884.2 524.1,884.6C524.3,885 524.6,885.3 524.8,885.6C525.1,886 525.3,886.3 525.6,886.6C525.8,886.9 526.1,887.2 526.3,887.5C526.6,887.7 526.8,888 527.1,888.3C527.3,888.5 527.6,888.8 527.8,889C528.1,889.3 528.3,889.5 528.6,889.7C528.8,890 529.1,890.2 529.4,890.4C529.6,890.6 529.9,890.8 530.1,891C530.4,891.2 530.6,891.3 530.9,891.5C531.1,891.7 531.4,891.9 531.6,892C531.9,892.2 532.1,892.4 532.4,892.5C532.6,892.7 532.9,892.8 533.1,893C533.4,893.1 533.6,893.3 533.9,893.4C534.1,893.5 534,893.5 534.6,893.8C535.3,894.2 536.8,895 537.8,895.5C538.9,896 540,896.5 541.1,896.9C542.1,897.3 543.2,897.7 544.3,898.1C545.4,898.5 546.5,898.8 547.5,899.2C548.6,899.5 549.7,899.8 550.8,900.1C551.8,900.4 552.9,900.6 554,900.9C555.1,901.1 556.1,901.4 557.2,901.6C558.3,901.8 559.4,902.1 560.4,902.3C561.5,902.5 562.6,902.7 563.7,902.9C564.7,903.1 565.8,903.3 566.9,903.5C568,903.6 569,903.8 570.1,904C571.2,904.2 572.3,904.4 573.3,904.5C574.4,904.7 575.5,904.9 576.6,905C577.7,905.2 578.7,905.4 579.8,905.5C580.9,905.7 582,905.9 583,906C584.1,906.1 585.2,906.3 586.3,906.4C587.3,906.6 588.4,906.7 589.5,906.8C590.6,906.9 591.6,907 592.7,907.1C593.8,907.2 594.9,907.3 595.9,907.4C597,907.6 598.1,907.7 599.2,907.7C600.2,907.8 601.3,907.9 602.4,908C603.5,908.1 604.6,908.2 605.6,908.3C606.7,908.4 607.8,908.5 608.9,908.5C609.9,908.6 611,908.7 612.1,908.8C613.2,908.8 614.2,908.9 615.3,909C616.4,909 617.5,909.1 618.5,909.1C619.6,909.2 620.7,909.2 621.8,909.3C622.8,909.3 623.9,909.4 625,909.4C626.1,909.5 627.1,909.5 628.2,909.5C629.3,909.6 630.4,909.6 631.4,909.6C632.5,909.7 633.6,909.7 634.7,909.7C635.8,909.8 636.8,909.8 637.9,909.8C639,909.9 640.1,909.9 641.1,909.9C642.2,910 643.3,910 644.4,910C645.4,910 646.5,910.1 647.6,910.1C648.7,910.1 649.7,910.2 650.8,910.2C651.9,910.2 653,910.2 654,910.3C655.1,910.3 656.2,910.3 657.3,910.3C658.3,910.4 660,910.4 660.5,910.4" fill="none" stroke="#2f78f5" stroke-width="1.2"/><g stroke="#1a1a1a" stroke-width="1.4"><line x1="382.9" y1="913.2" x2="382.9" y2="915.4000000000001"/><line x1="427.7" y1="913.2" x2="427.7" y2="916.7"/><line x1="472.4" y1="913.2" x2="472.4" y2="915.4000000000001"/><line x1="517.2" y1="913.2" x2="517.2" y2="916.7"/><line x1="562.0" y1="913.2" x2="562.0" y2="915.4000000000001"/><line x1="606.7" y1="913.2" x2="606.7" y2="916.7"/><line x1="651.5" y1="913.2" x2="651.5" y2="915.4000000000001"/></g><text x="427.9" y="927" text-anchor="middle" font-family="Liberation Sans" font-weight="bold" font-size="8.6" fill="#222" style="stroke-width:0.2px;stroke:#222">8</text><text x="517.4" y="927" text-anchor="middle" font-family="Liberation Sans" font-weight="bold" font-size="8.6" fill="#222" style="stroke-width:0.2px;stroke:#222">10</text><text x="606.9" y="927" text-anchor="middle" font-family="Liberation Sans" font-weight="bold" font-size="8.6" fill="#222" style="stroke-width:0.2px;stroke:#222">12</text><rect x="532.6" y="585" width="129.8" height="95" fill="none" stroke="#151a1e" stroke-width="1.6"/><line x1="536" y1="601.9" x2="592.2" y2="601.9" stroke="#5c6b6c" stroke-width="2.4"/><text x="598.8" y="610.4" font-family="Liberation Sans" font-size="23" textLength="59" lengthAdjust="spacingAndGlyphs">GO-0</text><line x1="536" y1="632.6" x2="592.2" y2="632.6" stroke="#ff1a40" stroke-width="1.7"/><text x="598.8" y="641.1" font-family="Liberation Sans" font-size="23" textLength="59" lengthAdjust="spacingAndGlyphs">GO-1</text><line x1="536" y1="663.3" x2="592.2" y2="663.3" stroke="#2f78f5" stroke-width="1.9"/><text x="598.8" y="671.8" font-family="Liberation Sans" font-size="23" textLength="59" lengthAdjust="spacingAndGlyphs">GO-2</text><path fill="#000" fill-rule="evenodd" d="M2.1,577.6 L9.1,577.6 L9.1,592.4 C10.9,590.2 13.7,589.1 16.9,589.1 C23.7,589.1 27.7,594.3 27.7,602.8 C27.7,612 22.9,618.1 15.6,618.1 C12.7,618.1 10.4,617.1 8.7,615 L8.3,617.6 L2.1,617.6 Z M9.1,597.3 L9.1,609.7 C10.4,611.2 12.1,612.3 14.3,612.3 C18.1,612.3 20.5,609 20.5,603.4 C20.5,598 18.4,594.7 14.9,594.7 C12.7,594.7 10.6,595.8 9.1,597.3 Z"/><path d="M32.4,576.6 L39.3,576.6 C43.3,583.6 45.4,592.7 45.4,601.8 C45.4,610.8 43.3,619.9 38.5,626.9 L32.4,626.9 C36.0,619.4 37.6,610.8 37.6,601.8 C37.6,592.7 36.0,584.1 32.4,576.6 Z" fill="#000"/><rect x="16" y="1131.9" width="3.8" height="3.1" rx="0.6" fill="#000"/></svg>
</body></html>
